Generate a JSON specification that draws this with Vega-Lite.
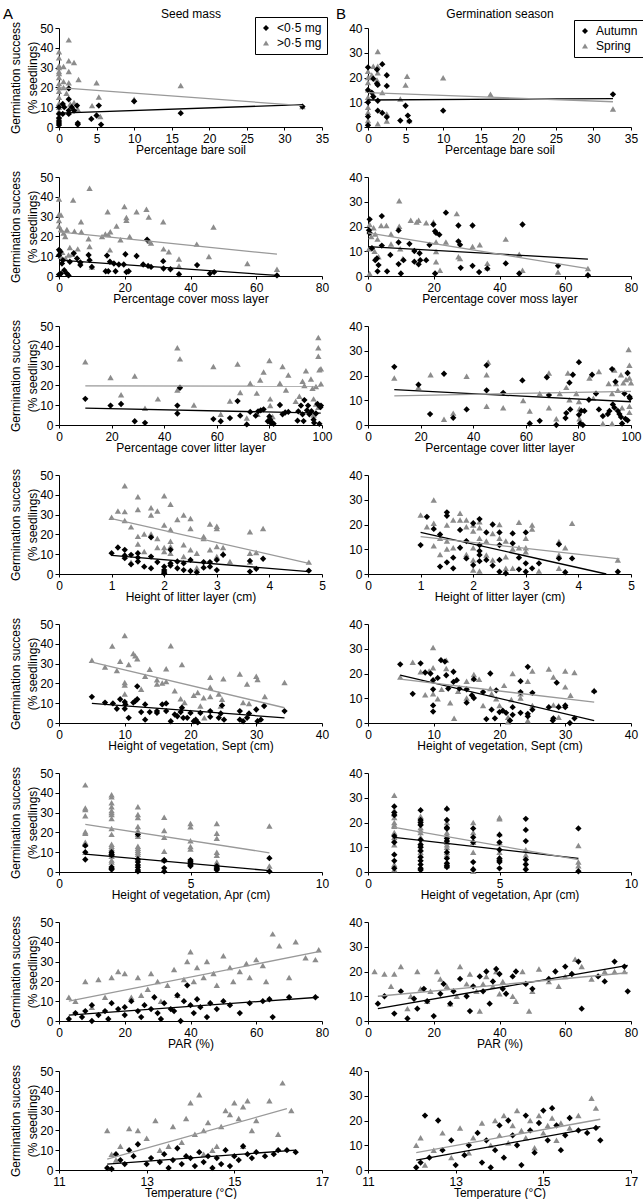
{
"$schema":"https://vega.github.io/schema/vega-lite/v6.json",
"padding":{"left":3,"top":7,"right":2,"bottom":2},
"background":"white",
"columns":2,
"spacing":{"row":50,"column":46},
"bounds":"flush",
"resolve":{"scale":{"color":"independent","shape":"independent","stroke":"independent"},"legend":{"color":"independent","shape":"independent"}},
"config":{
 "font":"Liberation Sans",
 "view":{"stroke":null},
 "axis":{"grid":false,"domainColor":"#000","tickColor":"#000","labelColor":"#000","titleColor":"#000","labelFontSize":12,"titleFontSize":12,"titleFontWeight":"normal","tickSize":4,"labelPadding":2,"titlePadding":2,"labelFlush":false,"labelOverlap":false,"labelFont":"Liberation Sans","titleFont":"Liberation Sans"},
 "axisX":{"tickSize":3,"labelPadding":3,"titlePadding":0,"labelOverlap":false},
 "axisY":{"titlePadding":0,"titleLineHeight":17,"labelOverlap":false},
 "legend":{"strokeColor":"#000","padding":5,"labelFontSize":12,"labelColor":"#000","symbolSize":36,"rowPadding":3,"labelOffset":5,"symbolStrokeWidth":0,"labelFont":"Liberation Sans"},
 "title":{"fontWeight":"normal","fontSize":15,"color":"#000","font":"Liberation Sans"},
 "point":{"size":40}
},
"datasets":{
"p1":[
{"g":">0·5 mg","x":0,"y":38},{"g":">0·5 mg","x":0,"y":35},{"g":">0·5 mg","x":0,"y":31},{"g":">0·5 mg","x":0,"y":30},{"g":">0·5 mg","x":0,"y":28},{"g":">0·5 mg","x":0,"y":27},{"g":">0·5 mg","x":0,"y":25},{"g":">0·5 mg","x":0,"y":22},{"g":">0·5 mg","x":0,"y":20},{"g":">0·5 mg","x":0,"y":18},{"g":">0·5 mg","x":0,"y":15},{"g":">0·5 mg","x":0,"y":12},{"g":">0·5 mg","x":0,"y":10},{"g":">0·5 mg","x":0,"y":8},{"g":">0·5 mg","x":0,"y":5},
{"g":">0·5 mg","x":1.3,"y":44},{"g":">0·5 mg","x":1.3,"y":33.5},{"g":">0·5 mg","x":2,"y":32.6},{"g":">0·5 mg","x":0.6,"y":30.6},{"g":">0·5 mg","x":1.3,"y":28},{"g":">0·5 mg","x":2.6,"y":24},{"g":">0·5 mg","x":1.3,"y":22.4},{"g":">0·5 mg","x":0.6,"y":23},{"g":">0·5 mg","x":5,"y":22.4},{"g":">0·5 mg","x":5.3,"y":15.2},{"g":">0·5 mg","x":5.5,"y":5.3},{"g":">0·5 mg","x":4.4,"y":10.8},{"g":">0·5 mg","x":10,"y":14},{"g":">0·5 mg","x":16.2,"y":21},{"g":">0·5 mg","x":32.4,"y":10.3},{"g":">0·5 mg","x":2,"y":12.4},{"g":">0·5 mg","x":2.5,"y":9},{"g":">0·5 mg","x":1.5,"y":11.6},{"g":">0·5 mg","x":0.6,"y":20},{"g":">0·5 mg","x":1,"y":17},
{"g":"<0·5 mg","x":0,"y":1},{"g":"<0·5 mg","x":0,"y":2},{"g":"<0·5 mg","x":0,"y":6.6},{"g":"<0·5 mg","x":0,"y":10},{"g":"<0·5 mg","x":0.5,"y":11.6},{"g":"<0·5 mg","x":0.5,"y":6.6},{"g":"<0·5 mg","x":0.7,"y":10},{"g":"<0·5 mg","x":1.3,"y":19.5},{"g":"<0·5 mg","x":1.3,"y":14},{"g":"<0·5 mg","x":1.3,"y":8.3},{"g":"<0·5 mg","x":1.3,"y":6.6},{"g":"<0·5 mg","x":1.7,"y":10},{"g":"<0·5 mg","x":2,"y":8.3},{"g":"<0·5 mg","x":2.4,"y":10.8},{"g":"<0·5 mg","x":2.5,"y":2},{"g":"<0·5 mg","x":2.5,"y":1.2},{"g":"<0·5 mg","x":4.3,"y":4.1},{"g":"<0·5 mg","x":5,"y":5.8},{"g":"<0·5 mg","x":5.3,"y":10.8},{"g":"<0·5 mg","x":5.6,"y":1.2},{"g":"<0·5 mg","x":10,"y":13},{"g":"<0·5 mg","x":16.2,"y":7},{"g":"<0·5 mg","x":32.4,"y":10.3},{"g":"<0·5 mg","x":0,"y":3},{"g":"<0·5 mg","x":0,"y":4.5}],
"l1":[{"g":"<0·5 mg","x":0,"y":7},{"g":"<0·5 mg","x":32.4,"y":11.3},{"g":">0·5 mg","x":0,"y":19.9},{"g":">0·5 mg","x":32.4,"y":10.8}],
"p2":[
{"g":"Spring","x":1.3,"y":30.5},{"g":"Spring","x":0.7,"y":24.5},{"g":"Spring","x":1.3,"y":24.5},{"g":"Spring","x":0,"y":22.5},{"g":"Spring","x":0,"y":20},{"g":"Spring","x":0,"y":18},{"g":"Spring","x":0,"y":15},{"g":"Spring","x":0,"y":12},{"g":"Spring","x":0,"y":8},{"g":"Spring","x":0,"y":6},{"g":"Spring","x":0,"y":2.6},{"g":"Spring","x":1.3,"y":21.9},{"g":"Spring","x":1.9,"y":13.9},{"g":"Spring","x":0.7,"y":13.2},{"g":"Spring","x":5.2,"y":20.5},{"g":"Spring","x":5,"y":17},{"g":"Spring","x":4.3,"y":11.3},{"g":"Spring","x":2.5,"y":5.3},{"g":"Spring","x":2.5,"y":2.4},{"g":"Spring","x":5.5,"y":2.6},{"g":"Spring","x":1.3,"y":1.3},{"g":"Spring","x":10,"y":19.9},{"g":"Spring","x":16.3,"y":13.2},{"g":"Spring","x":32.6,"y":7.3},{"g":"Spring","x":0.5,"y":21},{"g":"Spring","x":1.2,"y":19},
{"g":"Autumn","x":0,"y":24.1},{"g":"Autumn","x":0,"y":4.2},{"g":"Autumn","x":0,"y":0.7},{"g":"Autumn","x":0.5,"y":13.9},{"g":"Autumn","x":0.7,"y":12.2},{"g":"Autumn","x":0.7,"y":19.5},{"g":"Autumn","x":1.2,"y":23.2},{"g":"Autumn","x":1.2,"y":17.5},{"g":"Autumn","x":1.3,"y":17},{"g":"Autumn","x":1.3,"y":10.6},{"g":"Autumn","x":1.3,"y":6.6},{"g":"Autumn","x":1.9,"y":25.4},{"g":"Autumn","x":1.9,"y":5.7},{"g":"Autumn","x":2.5,"y":20.9},{"g":"Autumn","x":2.5,"y":16.6},{"g":"Autumn","x":2.5,"y":4},{"g":"Autumn","x":4.3,"y":2.6},{"g":"Autumn","x":5,"y":8.6},{"g":"Autumn","x":5.3,"y":4.6},{"g":"Autumn","x":5.5,"y":2.4},{"g":"Autumn","x":10,"y":6.6},{"g":"Autumn","x":32.6,"y":13.2},{"g":"Autumn","x":0,"y":10},{"g":"Autumn","x":0,"y":15}],
"l2":[{"g":"Autumn","x":0,"y":10.9},{"g":"Autumn","x":32.6,"y":11.5},{"g":"Spring","x":0,"y":13.9},{"g":"Spring","x":32.6,"y":10.2}],
"p3":[
{"g":">0·5 mg","x":0,"y":25.2},{"g":">0·5 mg","x":0,"y":28},{"g":">0·5 mg","x":0,"y":31.2},{"g":">0·5 mg","x":0,"y":38.9},{"g":">0·5 mg","x":0.6,"y":30.8},{"g":">0·5 mg","x":0.6,"y":23.5},{"g":">0·5 mg","x":1.4,"y":21.7},{"g":">0·5 mg","x":1.9,"y":20},{"g":">0·5 mg","x":2.4,"y":23.5},{"g":">0·5 mg","x":3.3,"y":14.4},{"g":">0·5 mg","x":2.9,"y":10.6},{"g":">0·5 mg","x":4.3,"y":38.4},{"g":">0·5 mg","x":4.7,"y":22.6},{"g":">0·5 mg","x":5.7,"y":13.7},{"g":">0·5 mg","x":6.7,"y":27.4},{"g":">0·5 mg","x":6.8,"y":22.3},{"g":">0·5 mg","x":9,"y":18.8},{"g":">0·5 mg","x":9.3,"y":14.9},{"g":">0·5 mg","x":9.3,"y":44.3},{"g":">0·5 mg","x":10,"y":4.6},{"g":">0·5 mg","x":13.1,"y":20},{"g":">0·5 mg","x":14.1,"y":21.2},{"g":">0·5 mg","x":14.8,"y":32.4},{"g":">0·5 mg","x":15,"y":20.9},{"g":">0·5 mg","x":15.6,"y":22.3},{"g":">0·5 mg","x":15.5,"y":13.2},{"g":">0·5 mg","x":17.5,"y":25.2},{"g":">0·5 mg","x":18.7,"y":18.3},{"g":">0·5 mg","x":19.9,"y":35.1},{"g":">0·5 mg","x":20.5,"y":29.5},{"g":">0·5 mg","x":20.5,"y":28.1},{"g":">0·5 mg","x":21.5,"y":20},{"g":">0·5 mg","x":23.6,"y":32.5},{"g":">0·5 mg","x":26.6,"y":33.7},{"g":">0·5 mg","x":27.3,"y":29.8},{"g":">0·5 mg","x":27.6,"y":17.5},{"g":">0·5 mg","x":28,"y":16.6},{"g":">0·5 mg","x":31.7,"y":27.4},{"g":">0·5 mg","x":31.8,"y":13.7},{"g":">0·5 mg","x":33.4,"y":12.3},{"g":">0·5 mg","x":36.5,"y":8.6},{"g":">0·5 mg","x":36.5,"y":5.1},{"g":">0·5 mg","x":41.9,"y":16.1},{"g":">0·5 mg","x":45.6,"y":9.8},{"g":">0·5 mg","x":47,"y":24.7},{"g":">0·5 mg","x":57.3,"y":6.3},{"g":">0·5 mg","x":66.3,"y":3.4},{"g":">0·5 mg","x":0.5,"y":10},{"g":">0·5 mg","x":1,"y":12},{"g":">0·5 mg","x":2,"y":9},{"g":">0·5 mg","x":4,"y":11},
{"g":"<0·5 mg","x":0,"y":13.2},{"g":"<0·5 mg","x":0.4,"y":12.3},{"g":"<0·5 mg","x":0,"y":10.5},{"g":"<0·5 mg","x":0,"y":0.7},{"g":"<0·5 mg","x":0.6,"y":1.2},{"g":"<0·5 mg","x":0.9,"y":6.3},{"g":"<0·5 mg","x":1.2,"y":8},{"g":"<0·5 mg","x":1.6,"y":2.9},{"g":"<0·5 mg","x":2.4,"y":1.2},{"g":"<0·5 mg","x":2.9,"y":0.3},{"g":"<0·5 mg","x":3.3,"y":7.2},{"g":"<0·5 mg","x":4.5,"y":11.5},{"g":"<0·5 mg","x":5.5,"y":8.9},{"g":"<0·5 mg","x":6.5,"y":5.5},{"g":"<0·5 mg","x":6.5,"y":6.8},{"g":"<0·5 mg","x":9,"y":10.6},{"g":"<0·5 mg","x":9.3,"y":8},{"g":"<0·5 mg","x":10,"y":4.6},{"g":"<0·5 mg","x":14.2,"y":2.4},{"g":"<0·5 mg","x":14.6,"y":10.3},{"g":"<0·5 mg","x":15,"y":2.4},{"g":"<0·5 mg","x":15.5,"y":7.2},{"g":"<0·5 mg","x":16.7,"y":6.3},{"g":"<0·5 mg","x":17.2,"y":2.4},{"g":"<0·5 mg","x":18.2,"y":5.8},{"g":"<0·5 mg","x":19.7,"y":5.8},{"g":"<0·5 mg","x":20.2,"y":11},{"g":"<0·5 mg","x":20.5,"y":2},{"g":"<0·5 mg","x":21.2,"y":2.4},{"g":"<0·5 mg","x":23.6,"y":10.1},{"g":"<0·5 mg","x":25.6,"y":5.8},{"g":"<0·5 mg","x":26.8,"y":18.3},{"g":"<0·5 mg","x":27.1,"y":5.1},{"g":"<0·5 mg","x":28,"y":4.6},{"g":"<0·5 mg","x":31.7,"y":7.5},{"g":"<0·5 mg","x":31.8,"y":3.8},{"g":"<0·5 mg","x":33.9,"y":3.4},{"g":"<0·5 mg","x":36.5,"y":0.9},{"g":"<0·5 mg","x":42,"y":5.5},{"g":"<0·5 mg","x":45.9,"y":1.2},{"g":"<0·5 mg","x":47.2,"y":2},{"g":"<0·5 mg","x":66.3,"y":0.3}],
"l3":[{"g":"<0·5 mg","x":0,"y":8},{"g":"<0·5 mg","x":66.3,"y":0.3},{"g":">0·5 mg","x":0,"y":22.3},{"g":">0·5 mg","x":66.3,"y":11}],
"p4":[
{"g":"Spring","x":0.5,"y":20.8},{"g":"Spring","x":0.5,"y":18},{"g":"Spring","x":0.3,"y":11},{"g":"Spring","x":0.5,"y":1},{"g":"Spring","x":1.7,"y":19.5},{"g":"Spring","x":2.2,"y":17},{"g":"Spring","x":2.9,"y":14.9},{"g":"Spring","x":4,"y":20.4},{"g":"Spring","x":5.6,"y":20.4},{"g":"Spring","x":7,"y":17},{"g":"Spring","x":7,"y":12.9},{"g":"Spring","x":3.2,"y":7.8},{"g":"Spring","x":9.5,"y":30.4},{"g":"Spring","x":9.5,"y":20.1},{"g":"Spring","x":9.8,"y":11},{"g":"Spring","x":10.6,"y":7.1},{"g":"Spring","x":13,"y":22.5},{"g":"Spring","x":14.8,"y":21.8},{"g":"Spring","x":15.4,"y":22.5},{"g":"Spring","x":17.7,"y":21.5},{"g":"Spring","x":19.9,"y":21.8},{"g":"Spring","x":20.7,"y":13.7},{"g":"Spring","x":20.7,"y":9.9},{"g":"Spring","x":20.7,"y":5.8},{"g":"Spring","x":21.9,"y":2.3},{"g":"Spring","x":23.7,"y":13.7},{"g":"Spring","x":27,"y":25.2},{"g":"Spring","x":27.5,"y":7.8},{"g":"Spring","x":28,"y":7.1},{"g":"Spring","x":31.8,"y":11.9},{"g":"Spring","x":34,"y":12.6},{"g":"Spring","x":36.3,"y":5.1},{"g":"Spring","x":36.3,"y":3.3},{"g":"Spring","x":41.9,"y":14.9},{"g":"Spring","x":46,"y":8.8},{"g":"Spring","x":47,"y":2.3},{"g":"Spring","x":57.8,"y":1.6},{"g":"Spring","x":66.9,"y":3},{"g":"Spring","x":1,"y":16},{"g":"Spring","x":2,"y":10},
{"g":"Autumn","x":0.5,"y":22.9},{"g":"Autumn","x":0.5,"y":17.4},{"g":"Autumn","x":0.3,"y":18.5},{"g":"Autumn","x":1.2,"y":11.2},{"g":"Autumn","x":2.2,"y":6.4},{"g":"Autumn","x":2.7,"y":7.1},{"g":"Autumn","x":2.9,"y":1.9},{"g":"Autumn","x":3.2,"y":4.4},{"g":"Autumn","x":4.2,"y":24.2},{"g":"Autumn","x":4.2,"y":12.3},{"g":"Autumn","x":5.8,"y":1.9},{"g":"Autumn","x":6.8,"y":8.5},{"g":"Autumn","x":9.3,"y":18.4},{"g":"Autumn","x":9.3,"y":13.6},{"g":"Autumn","x":9.3,"y":4.8},{"g":"Autumn","x":10,"y":1},{"g":"Autumn","x":10.8,"y":6.4},{"g":"Autumn","x":12.6,"y":13},{"g":"Autumn","x":14.1,"y":10.1},{"g":"Autumn","x":14.1,"y":5.8},{"g":"Autumn","x":15.4,"y":4.7},{"g":"Autumn","x":15.7,"y":9.2},{"g":"Autumn","x":15.9,"y":6.4},{"g":"Autumn","x":17.7,"y":6.4},{"g":"Autumn","x":18.7,"y":12.6},{"g":"Autumn","x":19.9,"y":20.8},{"g":"Autumn","x":20.4,"y":18.1},{"g":"Autumn","x":20.7,"y":17.4},{"g":"Autumn","x":21.7,"y":16.7},{"g":"Autumn","x":20.4,"y":1},{"g":"Autumn","x":23.7,"y":25.6},{"g":"Autumn","x":27.5,"y":20.4},{"g":"Autumn","x":27.5,"y":14},{"g":"Autumn","x":28,"y":12.6},{"g":"Autumn","x":28.2,"y":3.3},{"g":"Autumn","x":31.8,"y":20.4},{"g":"Autumn","x":31.8,"y":4.1},{"g":"Autumn","x":33.8,"y":1.6},{"g":"Autumn","x":36.3,"y":3},{"g":"Autumn","x":41.9,"y":5.1},{"g":"Autumn","x":46,"y":1},{"g":"Autumn","x":47,"y":20.8},{"g":"Autumn","x":57.8,"y":4.1},{"g":"Autumn","x":66.9,"y":0.3}],
"l4":[{"g":"Autumn","x":0,"y":11.9},{"g":"Autumn","x":66.9,"y":6.8},{"g":"Spring","x":0,"y":17.4},{"g":"Spring","x":66.9,"y":3}],
"p5":[
{"g":">0·5 mg","x":10,"y":31.9},{"g":">0·5 mg","x":19.6,"y":24},{"g":">0·5 mg","x":23.6,"y":15.3},{"g":">0·5 mg","x":28.8,"y":24.8},{"g":">0·5 mg","x":37.6,"y":13.2},{"g":">0·5 mg","x":32.7,"y":8.5},{"g":">0·5 mg","x":45,"y":39},{"g":">0·5 mg","x":46,"y":33.4},{"g":">0·5 mg","x":45,"y":17.7},{"g":">0·5 mg","x":51.3,"y":10.1},{"g":">0·5 mg","x":58.7,"y":29.5},{"g":">0·5 mg","x":61.5,"y":5.4},{"g":">0·5 mg","x":65,"y":12.1},{"g":">0·5 mg","x":67.9,"y":30.8},{"g":">0·5 mg","x":68.9,"y":16.4},{"g":">0·5 mg","x":71.4,"y":3.5},{"g":">0·5 mg","x":72.7,"y":21.1},{"g":">0·5 mg","x":75.2,"y":16.1},{"g":">0·5 mg","x":75.5,"y":5.4},{"g":">0·5 mg","x":76.5,"y":22.7},{"g":">0·5 mg","x":77.8,"y":26.8},{"g":">0·5 mg","x":80,"y":32.6},{"g":">0·5 mg","x":80.3,"y":13.2},{"g":">0·5 mg","x":80.3,"y":9.8},{"g":">0·5 mg","x":81.2,"y":4.3},{"g":">0·5 mg","x":84,"y":21.1},{"g":">0·5 mg","x":85,"y":29.5},{"g":">0·5 mg","x":86.3,"y":17.7},{"g":">0·5 mg","x":87.2,"y":25.2},{"g":">0·5 mg","x":91.4,"y":14.5},{"g":">0·5 mg","x":92.6,"y":22.1},{"g":">0·5 mg","x":93.3,"y":20},{"g":">0·5 mg","x":93.9,"y":27.4},{"g":">0·5 mg","x":95.8,"y":23.2},{"g":">0·5 mg","x":96.4,"y":18.5},{"g":">0·5 mg","x":96.8,"y":13.2},{"g":">0·5 mg","x":96.8,"y":5},{"g":">0·5 mg","x":97.7,"y":19.4},{"g":">0·5 mg","x":98.6,"y":44.2},{"g":">0·5 mg","x":98.6,"y":39},{"g":">0·5 mg","x":98.6,"y":34.7},{"g":">0·5 mg","x":99,"y":27.9},{"g":">0·5 mg","x":99.6,"y":28.4},{"g":">0·5 mg","x":99.6,"y":20.8},{"g":">0·5 mg","x":97.7,"y":10.6},{"g":">0·5 mg","x":98.6,"y":9},{"g":">0·5 mg","x":90,"y":12},
{"g":"<0·5 mg","x":10,"y":13.2},{"g":"<0·5 mg","x":19.6,"y":9.8},{"g":"<0·5 mg","x":23.6,"y":10.6},{"g":"<0·5 mg","x":28.8,"y":1.9},{"g":"<0·5 mg","x":32.7,"y":1.1},{"g":"<0·5 mg","x":45,"y":9.8},{"g":"<0·5 mg","x":45,"y":5.8},{"g":"<0·5 mg","x":46,"y":18.8},{"g":"<0·5 mg","x":58.7,"y":3},{"g":"<0·5 mg","x":61.5,"y":1.9},{"g":"<0·5 mg","x":65,"y":3.5},{"g":"<0·5 mg","x":67.9,"y":12.1},{"g":"<0·5 mg","x":68.9,"y":4.7},{"g":"<0·5 mg","x":71.4,"y":0.3},{"g":"<0·5 mg","x":72.7,"y":6.6},{"g":"<0·5 mg","x":74.8,"y":4.7},{"g":"<0·5 mg","x":75.7,"y":6.9},{"g":"<0·5 mg","x":76.7,"y":7.4},{"g":"<0·5 mg","x":77.8,"y":7.9},{"g":"<0·5 mg","x":79.4,"y":1.9},{"g":"<0·5 mg","x":80,"y":4.3},{"g":"<0·5 mg","x":80.3,"y":2.7},{"g":"<0·5 mg","x":80.5,"y":1.1},{"g":"<0·5 mg","x":81.2,"y":1.1},{"g":"<0·5 mg","x":81.6,"y":0.6},{"g":"<0·5 mg","x":84,"y":10.1},{"g":"<0·5 mg","x":85,"y":5.4},{"g":"<0·5 mg","x":86,"y":6.3},{"g":"<0·5 mg","x":87.2,"y":6.6},{"g":"<0·5 mg","x":90.7,"y":2.2},{"g":"<0·5 mg","x":91,"y":6.9},{"g":"<0·5 mg","x":92,"y":9.8},{"g":"<0·5 mg","x":92.6,"y":5.4},{"g":"<0·5 mg","x":93.3,"y":12.6},{"g":"<0·5 mg","x":94.3,"y":7.4},{"g":"<0·5 mg","x":94.7,"y":9.8},{"g":"<0·5 mg","x":95.2,"y":5.4},{"g":"<0·5 mg","x":96.8,"y":2.7},{"g":"<0·5 mg","x":97,"y":1.1},{"g":"<0·5 mg","x":97.7,"y":5.8},{"g":"<0·5 mg","x":98.3,"y":10.6},{"g":"<0·5 mg","x":99,"y":0.6},{"g":"<0·5 mg","x":99.4,"y":9},{"g":"<0·5 mg","x":99.6,"y":9.8},{"g":"<0·5 mg","x":96,"y":7},{"g":"<0·5 mg","x":93,"y":2}],
"l5":[{"g":"<0·5 mg","x":10,"y":8.5},{"g":"<0·5 mg","x":99.5,"y":6},{"g":">0·5 mg","x":10,"y":19.8},{"g":">0·5 mg","x":99.5,"y":19.6}],
"p6":[
{"g":"Spring","x":10,"y":19},{"g":"Spring","x":19.2,"y":15.2},{"g":"Spring","x":23.8,"y":20.3},{"g":"Spring","x":28.9,"y":2.3},{"g":"Spring","x":32.4,"y":4.8},{"g":"Spring","x":37.5,"y":19.7},{"g":"Spring","x":45.1,"y":20.3},{"g":"Spring","x":45.7,"y":25.4},{"g":"Spring","x":45.1,"y":7.6},{"g":"Spring","x":51.4,"y":7},{"g":"Spring","x":59,"y":9.9},{"g":"Spring","x":61.5,"y":5.7},{"g":"Spring","x":65.3,"y":12.7},{"g":"Spring","x":68.8,"y":21},{"g":"Spring","x":68.8,"y":7},{"g":"Spring","x":71.6,"y":2.5},{"g":"Spring","x":72.9,"y":12.7},{"g":"Spring","x":75.4,"y":15.2},{"g":"Spring","x":76,"y":21},{"g":"Spring","x":76.6,"y":10.2},{"g":"Spring","x":79.2,"y":12.7},{"g":"Spring","x":80.2,"y":9.5},{"g":"Spring","x":80.4,"y":6.6},{"g":"Spring","x":80.4,"y":2.5},{"g":"Spring","x":84.2,"y":19},{"g":"Spring","x":85.7,"y":10.8},{"g":"Spring","x":87.8,"y":21.6},{"g":"Spring","x":89.3,"y":0.6},{"g":"Spring","x":91.5,"y":16.8},{"g":"Spring","x":92.8,"y":0.6},{"g":"Spring","x":92.8,"y":12.7},{"g":"Spring","x":93.7,"y":22.2},{"g":"Spring","x":94.3,"y":16.8},{"g":"Spring","x":95,"y":14},{"g":"Spring","x":96.2,"y":20.3},{"g":"Spring","x":96.6,"y":7},{"g":"Spring","x":97.1,"y":17.1},{"g":"Spring","x":98.1,"y":18.4},{"g":"Spring","x":99.1,"y":30.5},{"g":"Spring","x":99.4,"y":24.1},{"g":"Spring","x":99.4,"y":19},{"g":"Spring","x":99.4,"y":7.6},{"g":"Spring","x":100,"y":17.1},{"g":"Spring","x":99.4,"y":5.1},
{"g":"Autumn","x":10,"y":23.5},{"g":"Autumn","x":19.2,"y":16.3},{"g":"Autumn","x":23.6,"y":4.4},{"g":"Autumn","x":28.9,"y":20.7},{"g":"Autumn","x":32.4,"y":2.9},{"g":"Autumn","x":37.5,"y":6.3},{"g":"Autumn","x":45.1,"y":24.1},{"g":"Autumn","x":45.1,"y":14},{"g":"Autumn","x":51.4,"y":13},{"g":"Autumn","x":58.7,"y":18},{"g":"Autumn","x":61.5,"y":0.6},{"g":"Autumn","x":65.3,"y":1.7},{"g":"Autumn","x":68.8,"y":12.1},{"g":"Autumn","x":68,"y":19.3},{"g":"Autumn","x":71.6,"y":0},{"g":"Autumn","x":75.1,"y":2.8},{"g":"Autumn","x":75.4,"y":4.8},{"g":"Autumn","x":76.6,"y":17.1},{"g":"Autumn","x":76.9,"y":6.3},{"g":"Autumn","x":77.9,"y":20.3},{"g":"Autumn","x":80.2,"y":25.4},{"g":"Autumn","x":80.2,"y":4.1},{"g":"Autumn","x":80.7,"y":0.6},{"g":"Autumn","x":81.1,"y":5.7},{"g":"Autumn","x":81.7,"y":0},{"g":"Autumn","x":82.3,"y":5.7},{"g":"Autumn","x":84,"y":10.2},{"g":"Autumn","x":85.2,"y":20.3},{"g":"Autumn","x":86.7,"y":12.7},{"g":"Autumn","x":87.8,"y":6.3},{"g":"Autumn","x":89.3,"y":3.6},{"g":"Autumn","x":91.2,"y":4.4},{"g":"Autumn","x":91.8,"y":5.7},{"g":"Autumn","x":92.8,"y":22.6},{"g":"Autumn","x":93.1,"y":8.3},{"g":"Autumn","x":93.7,"y":7},{"g":"Autumn","x":94.1,"y":17.5},{"g":"Autumn","x":95,"y":5.7},{"g":"Autumn","x":95.6,"y":4.4},{"g":"Autumn","x":96.2,"y":3.2},{"g":"Autumn","x":96.6,"y":0.6},{"g":"Autumn","x":97.5,"y":12.7},{"g":"Autumn","x":97.9,"y":2.5},{"g":"Autumn","x":98.7,"y":1.9},{"g":"Autumn","x":98.7,"y":21},{"g":"Autumn","x":99.4,"y":11.4},{"g":"Autumn","x":99.6,"y":10.8}],
"l6":[{"g":"Autumn","x":10,"y":14.3},{"g":"Autumn","x":100,"y":9.4},{"g":"Spring","x":10,"y":11.8},{"g":"Spring","x":100,"y":13.6}],
"p7":[
{"g":">0·5 mg","x":1,"y":28.7},{"g":">0·5 mg","x":1.12,"y":31.8},{"g":">0·5 mg","x":1.25,"y":44.6},{"g":">0·5 mg","x":1.25,"y":31.5},{"g":">0·5 mg","x":1.25,"y":27},{"g":">0·5 mg","x":1.37,"y":23.8},{"g":">0·5 mg","x":1.37,"y":6},{"g":">0·5 mg","x":1.5,"y":39},{"g":">0·5 mg","x":1.5,"y":32.6},{"g":">0·5 mg","x":1.5,"y":19},{"g":">0·5 mg","x":1.5,"y":15.1},{"g":">0·5 mg","x":1.62,"y":20.2},{"g":">0·5 mg","x":1.62,"y":11.4},{"g":">0·5 mg","x":1.75,"y":33.5},{"g":">0·5 mg","x":1.75,"y":29.8},{"g":">0·5 mg","x":1.75,"y":20.2},{"g":">0·5 mg","x":1.87,"y":31.8},{"g":">0·5 mg","x":1.87,"y":17.9},{"g":">0·5 mg","x":1.87,"y":13.4},{"g":">0·5 mg","x":2,"y":39.5},{"g":">0·5 mg","x":2,"y":24.7},{"g":">0·5 mg","x":2,"y":13.4},{"g":">0·5 mg","x":2,"y":11.4},{"g":">0·5 mg","x":2.12,"y":35.2},{"g":">0·5 mg","x":2.12,"y":22.5},{"g":">0·5 mg","x":2.12,"y":16.5},{"g":">0·5 mg","x":2.12,"y":13.9},{"g":">0·5 mg","x":2.12,"y":10.5},{"g":">0·5 mg","x":2.25,"y":27.5},{"g":">0·5 mg","x":2.37,"y":29.8},{"g":">0·5 mg","x":2.37,"y":14.8},{"g":">0·5 mg","x":2.37,"y":8.8},{"g":">0·5 mg","x":2.5,"y":28},{"g":">0·5 mg","x":2.5,"y":23},{"g":">0·5 mg","x":2.5,"y":12.2},{"g":">0·5 mg","x":2.62,"y":10.5},{"g":">0·5 mg","x":2.62,"y":3.2},{"g":">0·5 mg","x":2.75,"y":19},{"g":">0·5 mg","x":2.75,"y":17.9},{"g":">0·5 mg","x":2.87,"y":25.3},{"g":">0·5 mg","x":2.87,"y":12.2},{"g":">0·5 mg","x":3,"y":24.1},{"g":">0·5 mg","x":3,"y":23},{"g":">0·5 mg","x":3,"y":13.9},{"g":">0·5 mg","x":3,"y":8.8},{"g":">0·5 mg","x":3.12,"y":13.4},{"g":">0·5 mg","x":3.12,"y":10.5},{"g":">0·5 mg","x":3.25,"y":6.3},{"g":">0·5 mg","x":3.63,"y":21.3},{"g":">0·5 mg","x":3.63,"y":10.5},{"g":">0·5 mg","x":3.63,"y":6},{"g":">0·5 mg","x":3.75,"y":10.9},{"g":">0·5 mg","x":3.88,"y":23},{"g":">0·5 mg","x":4.75,"y":6},
{"g":"<0·5 mg","x":1,"y":10.5},{"g":"<0·5 mg","x":1.12,"y":13.4},{"g":"<0·5 mg","x":1.25,"y":12.2},{"g":"<0·5 mg","x":1.25,"y":8},{"g":"<0·5 mg","x":1.25,"y":9.4},{"g":"<0·5 mg","x":1.37,"y":4.9},{"g":"<0·5 mg","x":1.37,"y":9.7},{"g":"<0·5 mg","x":1.5,"y":10.5},{"g":"<0·5 mg","x":1.5,"y":8.3},{"g":"<0·5 mg","x":1.5,"y":6.3},{"g":"<0·5 mg","x":1.62,"y":3.7},{"g":"<0·5 mg","x":1.75,"y":8.8},{"g":"<0·5 mg","x":1.75,"y":2.9},{"g":"<0·5 mg","x":1.75,"y":18.5},{"g":"<0·5 mg","x":1.87,"y":6},{"g":"<0·5 mg","x":2,"y":2},{"g":"<0·5 mg","x":2,"y":0.3},{"g":"<0·5 mg","x":2,"y":3.7},{"g":"<0·5 mg","x":2,"y":1},{"g":"<0·5 mg","x":2.12,"y":12.2},{"g":"<0·5 mg","x":2.12,"y":5.4},{"g":"<0·5 mg","x":2.12,"y":4.3},{"g":"<0·5 mg","x":2.25,"y":6.3},{"g":"<0·5 mg","x":2.25,"y":2.9},{"g":"<0·5 mg","x":2.37,"y":2},{"g":"<0·5 mg","x":2.37,"y":5.4},{"g":"<0·5 mg","x":2.5,"y":7.1},{"g":"<0·5 mg","x":2.5,"y":1.5},{"g":"<0·5 mg","x":2.62,"y":0.9},{"g":"<0·5 mg","x":2.75,"y":6},{"g":"<0·5 mg","x":2.75,"y":3.2},{"g":"<0·5 mg","x":2.87,"y":3.7},{"g":"<0·5 mg","x":2.87,"y":6},{"g":"<0·5 mg","x":3,"y":7.1},{"g":"<0·5 mg","x":3,"y":2},{"g":"<0·5 mg","x":3.12,"y":9.7},{"g":"<0·5 mg","x":3.63,"y":6.6},{"g":"<0·5 mg","x":3.63,"y":1.2},{"g":"<0·5 mg","x":3.75,"y":2.6},{"g":"<0·5 mg","x":3.88,"y":7.7},{"g":"<0·5 mg","x":4.75,"y":1.7}],
"l7":[{"g":"<0·5 mg","x":1,"y":9.4},{"g":"<0·5 mg","x":4.75,"y":1.2},{"g":">0·5 mg","x":1,"y":28},{"g":">0·5 mg","x":4.75,"y":5.4}],
"p8":[
{"g":"Spring","x":1,"y":23.8},{"g":"Spring","x":1.12,"y":19.1},{"g":"Spring","x":1.25,"y":29.9},{"g":"Spring","x":1.25,"y":20.5},{"g":"Spring","x":1.25,"y":11.4},{"g":"Spring","x":1.37,"y":7.9},{"g":"Spring","x":1.37,"y":14.4},{"g":"Spring","x":1.5,"y":19.8},{"g":"Spring","x":1.5,"y":13.3},{"g":"Spring","x":1.5,"y":10.1},{"g":"Spring","x":1.62,"y":21.8},{"g":"Spring","x":1.62,"y":10.6},{"g":"Spring","x":1.75,"y":24.5},{"g":"Spring","x":1.75,"y":21.8},{"g":"Spring","x":1.87,"y":21.8},{"g":"Spring","x":1.87,"y":19.1},{"g":"Spring","x":1.87,"y":7.9},{"g":"Spring","x":2,"y":19.8},{"g":"Spring","x":2,"y":17.4},{"g":"Spring","x":2,"y":10.6},{"g":"Spring","x":2,"y":5.7},{"g":"Spring","x":2,"y":1.6},{"g":"Spring","x":2.12,"y":21.1},{"g":"Spring","x":2.12,"y":18.7},{"g":"Spring","x":2.12,"y":14.4},{"g":"Spring","x":2.12,"y":1.2},{"g":"Spring","x":2.25,"y":13.3},{"g":"Spring","x":2.25,"y":7.7},{"g":"Spring","x":2.37,"y":16.4},{"g":"Spring","x":2.37,"y":5.7},{"g":"Spring","x":2.5,"y":20},{"g":"Spring","x":2.5,"y":14.4},{"g":"Spring","x":2.62,"y":13.3},{"g":"Spring","x":2.62,"y":7},{"g":"Spring","x":2.62,"y":2.3},{"g":"Spring","x":2.75,"y":2.3},{"g":"Spring","x":2.75,"y":10.1},{"g":"Spring","x":2.87,"y":20.9},{"g":"Spring","x":2.87,"y":10.6},{"g":"Spring","x":3,"y":14.4},{"g":"Spring","x":3,"y":10.6},{"g":"Spring","x":3,"y":9},{"g":"Spring","x":3.12,"y":19.8},{"g":"Spring","x":3.12,"y":18.2},{"g":"Spring","x":3.25,"y":1.2},{"g":"Spring","x":3.63,"y":13.1},{"g":"Spring","x":3.63,"y":7.7},{"g":"Spring","x":3.63,"y":2.3},{"g":"Spring","x":3.75,"y":10.6},{"g":"Spring","x":3.88,"y":20.5},{"g":"Spring","x":4.75,"y":5.7},
{"g":"Autumn","x":1,"y":11.7},{"g":"Autumn","x":1.12,"y":23.1},{"g":"Autumn","x":1.25,"y":18.2},{"g":"Autumn","x":1.37,"y":3},{"g":"Autumn","x":1.37,"y":16},{"g":"Autumn","x":1.5,"y":24.9},{"g":"Autumn","x":1.5,"y":23.5},{"g":"Autumn","x":1.5,"y":4.7},{"g":"Autumn","x":1.62,"y":2.3},{"g":"Autumn","x":1.62,"y":6.6},{"g":"Autumn","x":1.75,"y":17.8},{"g":"Autumn","x":1.75,"y":10.6},{"g":"Autumn","x":1.87,"y":6.3},{"g":"Autumn","x":1.87,"y":13.3},{"g":"Autumn","x":2,"y":20.5},{"g":"Autumn","x":2,"y":3.6},{"g":"Autumn","x":2.12,"y":22.2},{"g":"Autumn","x":2.12,"y":11.7},{"g":"Autumn","x":2.12,"y":9.3},{"g":"Autumn","x":2.12,"y":7.7},{"g":"Autumn","x":2.12,"y":5.2},{"g":"Autumn","x":2.25,"y":16.8},{"g":"Autumn","x":2.25,"y":5.7},{"g":"Autumn","x":2.37,"y":20},{"g":"Autumn","x":2.37,"y":3.4},{"g":"Autumn","x":2.5,"y":16.8},{"g":"Autumn","x":2.5,"y":11.7},{"g":"Autumn","x":2.5,"y":5.7},{"g":"Autumn","x":2.5,"y":0.9},{"g":"Autumn","x":2.62,"y":0.3},{"g":"Autumn","x":2.75,"y":16.4},{"g":"Autumn","x":2.75,"y":12.4},{"g":"Autumn","x":2.87,"y":6.6},{"g":"Autumn","x":2.87,"y":1.9},{"g":"Autumn","x":3,"y":16.8},{"g":"Autumn","x":3,"y":4.3},{"g":"Autumn","x":3,"y":0.9},{"g":"Autumn","x":3.12,"y":2.3},{"g":"Autumn","x":3.25,"y":4.3},{"g":"Autumn","x":3.63,"y":12},{"g":"Autumn","x":3.63,"y":6.3},{"g":"Autumn","x":3.75,"y":0.7},{"g":"Autumn","x":3.88,"y":6.3},{"g":"Autumn","x":4.75,"y":0.9}],
"l8":[{"g":"Autumn","x":1,"y":16.8},{"g":"Autumn","x":4.53,"y":0},{"g":"Spring","x":1,"y":15.1},{"g":"Spring","x":4.78,"y":6.1}],
"p9":[
{"g":">0·5 mg","x":5,"y":31.7},{"g":">0·5 mg","x":7,"y":28.3},{"g":">0·5 mg","x":8.1,"y":38.9},{"g":">0·5 mg","x":8.8,"y":26.5},{"g":">0·5 mg","x":9.3,"y":31.2},{"g":">0·5 mg","x":10,"y":44.2},{"g":">0·5 mg","x":10,"y":20.5},{"g":">0·5 mg","x":10,"y":19.2},{"g":">0·5 mg","x":10,"y":14.6},{"g":">0·5 mg","x":10.6,"y":29.5},{"g":">0·5 mg","x":11.3,"y":35.1},{"g":">0·5 mg","x":11.6,"y":33.9},{"g":">0·5 mg","x":11.9,"y":32.5},{"g":">0·5 mg","x":12.5,"y":17.1},{"g":">0·5 mg","x":13.1,"y":23.6},{"g":">0·5 mg","x":13.8,"y":27.1},{"g":">0·5 mg","x":14.9,"y":21.9},{"g":">0·5 mg","x":14.9,"y":19.7},{"g":">0·5 mg","x":15.7,"y":20.2},{"g":">0·5 mg","x":16.3,"y":27.4},{"g":">0·5 mg","x":16.3,"y":21},{"g":">0·5 mg","x":17,"y":39},{"g":">0·5 mg","x":17.6,"y":16.3},{"g":">0·5 mg","x":18.5,"y":12.3},{"g":">0·5 mg","x":18.7,"y":29.5},{"g":">0·5 mg","x":19.1,"y":10.3},{"g":">0·5 mg","x":20.5,"y":14},{"g":">0·5 mg","x":21.1,"y":15.4},{"g":">0·5 mg","x":21.5,"y":8.6},{"g":">0·5 mg","x":22,"y":12.8},{"g":">0·5 mg","x":22.1,"y":2.6},{"g":">0·5 mg","x":23,"y":23.1},{"g":">0·5 mg","x":23,"y":18},{"g":">0·5 mg","x":23,"y":13.4},{"g":">0·5 mg","x":24.3,"y":14.6},{"g":">0·5 mg","x":24.6,"y":8.6},{"g":">0·5 mg","x":24.8,"y":12},{"g":">0·5 mg","x":25,"y":22.3},{"g":">0·5 mg","x":27.5,"y":24.8},{"g":">0·5 mg","x":28,"y":10.3},{"g":">0·5 mg","x":28.6,"y":19.7},{"g":">0·5 mg","x":28.9,"y":9.9},{"g":">0·5 mg","x":30,"y":23.6},{"g":">0·5 mg","x":30.2,"y":22},{"g":">0·5 mg","x":31.3,"y":13.4},{"g":">0·5 mg","x":34.3,"y":20.5},
{"g":"<0·5 mg","x":5,"y":13.2},{"g":"<0·5 mg","x":7,"y":10.3},{"g":"<0·5 mg","x":8.2,"y":9.9},{"g":"<0·5 mg","x":8.8,"y":7.2},{"g":"<0·5 mg","x":9.3,"y":12},{"g":"<0·5 mg","x":10,"y":10.6},{"g":"<0·5 mg","x":10.1,"y":9.4},{"g":"<0·5 mg","x":10,"y":7.2},{"g":"<0·5 mg","x":10.6,"y":2.6},{"g":"<0·5 mg","x":11.3,"y":10.3},{"g":"<0·5 mg","x":11.6,"y":11.1},{"g":"<0·5 mg","x":11.9,"y":12},{"g":"<0·5 mg","x":11.9,"y":18.5},{"g":"<0·5 mg","x":12.5,"y":5.5},{"g":"<0·5 mg","x":13.1,"y":9.4},{"g":"<0·5 mg","x":13.1,"y":1.7},{"g":"<0·5 mg","x":13.8,"y":5.5},{"g":"<0·5 mg","x":14.9,"y":5.1},{"g":"<0·5 mg","x":14.9,"y":6},{"g":"<0·5 mg","x":15.7,"y":9.4},{"g":"<0·5 mg","x":16.3,"y":9.9},{"g":"<0·5 mg","x":16.3,"y":6},{"g":"<0·5 mg","x":17,"y":0.9},{"g":"<0·5 mg","x":17.6,"y":4.3},{"g":"<0·5 mg","x":18,"y":3.4},{"g":"<0·5 mg","x":18.5,"y":5.5},{"g":"<0·5 mg","x":18.7,"y":7.7},{"g":"<0·5 mg","x":18.9,"y":2.6},{"g":"<0·5 mg","x":19.5,"y":2.6},{"g":"<0·5 mg","x":20,"y":5.1},{"g":"<0·5 mg","x":20.5,"y":0.9},{"g":"<0·5 mg","x":20.8,"y":1.7},{"g":"<0·5 mg","x":21.1,"y":0.3},{"g":"<0·5 mg","x":21.5,"y":5.1},{"g":"<0·5 mg","x":23,"y":6},{"g":"<0·5 mg","x":23,"y":3.1},{"g":"<0·5 mg","x":24.3,"y":2.6},{"g":"<0·5 mg","x":24.6,"y":4.8},{"g":"<0·5 mg","x":24.8,"y":8.9},{"g":"<0·5 mg","x":25.1,"y":1.7},{"g":"<0·5 mg","x":27.5,"y":1.7},{"g":"<0·5 mg","x":27.5,"y":6},{"g":"<0·5 mg","x":28,"y":0.9},{"g":"<0·5 mg","x":28.6,"y":2.6},{"g":"<0·5 mg","x":28.9,"y":4.8},{"g":"<0·5 mg","x":30,"y":6.8},{"g":"<0·5 mg","x":30.2,"y":0.9},{"g":"<0·5 mg","x":30.7,"y":1.7},{"g":"<0·5 mg","x":31.2,"y":8.6},{"g":"<0·5 mg","x":34.3,"y":6}],
"l9":[{"g":"<0·5 mg","x":5,"y":9.9},{"g":"<0·5 mg","x":34.3,"y":2.6},{"g":">0·5 mg","x":5,"y":30.8},{"g":">0·5 mg","x":34.3,"y":7.7}],
"p10":[
{"g":"Spring","x":4.9,"y":18.6},{"g":"Spring","x":6.8,"y":24.5},{"g":"Spring","x":8,"y":20.7},{"g":"Spring","x":8.7,"y":11.4},{"g":"Spring","x":9.3,"y":21},{"g":"Spring","x":9.9,"y":30.5},{"g":"Spring","x":9.9,"y":22.3},{"g":"Spring","x":9.9,"y":11.8},{"g":"Spring","x":10.6,"y":9.8},{"g":"Spring","x":11.2,"y":13.6},{"g":"Spring","x":11.9,"y":25.4},{"g":"Spring","x":11.9,"y":22},{"g":"Spring","x":12.5,"y":8.2},{"g":"Spring","x":13.1,"y":1.9},{"g":"Spring","x":13.7,"y":12.8},{"g":"Spring","x":15,"y":16.9},{"g":"Spring","x":15,"y":10.1},{"g":"Spring","x":16.1,"y":19.6},{"g":"Spring","x":16.1,"y":18},{"g":"Spring","x":16.9,"y":17.7},{"g":"Spring","x":17.5,"y":7.1},{"g":"Spring","x":18.6,"y":13.9},{"g":"Spring","x":18.8,"y":11.8},{"g":"Spring","x":19.5,"y":9.8},{"g":"Spring","x":20,"y":7.1},{"g":"Spring","x":20.7,"y":15.2},{"g":"Spring","x":21.3,"y":2.3},{"g":"Spring","x":21.3,"y":0.5},{"g":"Spring","x":21.8,"y":9.5},{"g":"Spring","x":22,"y":20},{"g":"Spring","x":23.2,"y":11.8},{"g":"Spring","x":23.2,"y":10.1},{"g":"Spring","x":24.3,"y":16.9},{"g":"Spring","x":24.3,"y":1},{"g":"Spring","x":25,"y":21},{"g":"Spring","x":25,"y":7.1},{"g":"Spring","x":27.5,"y":21.8},{"g":"Spring","x":28.2,"y":18.6},{"g":"Spring","x":28.2,"y":7.3},{"g":"Spring","x":29,"y":7.1},{"g":"Spring","x":29,"y":2.3},{"g":"Spring","x":30,"y":21},{"g":"Spring","x":30,"y":14.6},{"g":"Spring","x":30.8,"y":11.2},{"g":"Spring","x":31.4,"y":20.4},{"g":"Spring","x":34.4,"y":13.2},
{"g":"Autumn","x":4.9,"y":23.7},{"g":"Autumn","x":6.8,"y":11.8},{"g":"Autumn","x":8,"y":24.1},{"g":"Autumn","x":8.7,"y":20.4},{"g":"Autumn","x":9.5,"y":20},{"g":"Autumn","x":9.9,"y":17.3},{"g":"Autumn","x":9.9,"y":13.6},{"g":"Autumn","x":9.9,"y":7.1},{"g":"Autumn","x":9.9,"y":4.6},{"g":"Autumn","x":10.6,"y":18.2},{"g":"Autumn","x":11.1,"y":25.4},{"g":"Autumn","x":11.7,"y":24.8},{"g":"Autumn","x":11.9,"y":19.3},{"g":"Autumn","x":12.2,"y":13.9},{"g":"Autumn","x":13,"y":20.7},{"g":"Autumn","x":13,"y":16.6},{"g":"Autumn","x":13.5,"y":17.3},{"g":"Autumn","x":13.9,"y":13.9},{"g":"Autumn","x":15,"y":13.6},{"g":"Autumn","x":15,"y":8.2},{"g":"Autumn","x":15.8,"y":11.2},{"g":"Autumn","x":16.1,"y":10.1},{"g":"Autumn","x":16.1,"y":17.7},{"g":"Autumn","x":17.5,"y":12.5},{"g":"Autumn","x":18,"y":1.6},{"g":"Autumn","x":18.6,"y":20},{"g":"Autumn","x":18.8,"y":5.4},{"g":"Autumn","x":19.3,"y":1.9},{"g":"Autumn","x":19.5,"y":13.2},{"g":"Autumn","x":20,"y":4.4},{"g":"Autumn","x":20.5,"y":5},{"g":"Autumn","x":21,"y":4.1},{"g":"Autumn","x":21.6,"y":1},{"g":"Autumn","x":22,"y":6.4},{"g":"Autumn","x":22,"y":3.3},{"g":"Autumn","x":23.2,"y":4.1},{"g":"Autumn","x":23.2,"y":16.9},{"g":"Autumn","x":23.2,"y":12.5},{"g":"Autumn","x":24.3,"y":22.7},{"g":"Autumn","x":24.3,"y":3.7},{"g":"Autumn","x":24.3,"y":2.7},{"g":"Autumn","x":25,"y":5.4},{"g":"Autumn","x":25,"y":12.2},{"g":"Autumn","x":27.5,"y":6.4},{"g":"Autumn","x":28.1,"y":1},{"g":"Autumn","x":28.2,"y":1.9},{"g":"Autumn","x":28.7,"y":16.3},{"g":"Autumn","x":29,"y":6.4},{"g":"Autumn","x":30,"y":7.1},{"g":"Autumn","x":30,"y":6.4},{"g":"Autumn","x":30.7,"y":0},{"g":"Autumn","x":31.4,"y":1.9},{"g":"Autumn","x":34.4,"y":12.8}],
"l10":[{"g":"Autumn","x":4.9,"y":19.3},{"g":"Autumn","x":34.4,"y":1},{"g":"Spring","x":4.9,"y":17.7},{"g":"Spring","x":34.4,"y":8.4}],
"p11":[
{"g":">0·5 mg","x":1,"y":44},{"g":">0·5 mg","x":1,"y":32.3},{"g":">0·5 mg","x":1,"y":31.5},{"g":">0·5 mg","x":1,"y":28.4},{"g":">0·5 mg","x":1,"y":20.3},{"g":">0·5 mg","x":1,"y":19.6},{"g":">0·5 mg","x":1,"y":15},{"g":">0·5 mg","x":1,"y":14},{"g":">0·5 mg","x":1,"y":10},
{"g":">0·5 mg","x":2,"y":39},{"g":">0·5 mg","x":2,"y":38},{"g":">0·5 mg","x":2,"y":35},{"g":">0·5 mg","x":2,"y":33},{"g":">0·5 mg","x":2,"y":31},{"g":">0·5 mg","x":2,"y":30},{"g":">0·5 mg","x":2,"y":29},{"g":">0·5 mg","x":2,"y":27},{"g":">0·5 mg","x":2,"y":22},{"g":">0·5 mg","x":2,"y":19},{"g":">0·5 mg","x":2,"y":14},{"g":">0·5 mg","x":2,"y":13},{"g":">0·5 mg","x":2,"y":12},{"g":">0·5 mg","x":2,"y":10},{"g":">0·5 mg","x":2,"y":8},{"g":">0·5 mg","x":2,"y":6},{"g":">0·5 mg","x":2,"y":5},
{"g":">0·5 mg","x":3,"y":33},{"g":">0·5 mg","x":3,"y":29},{"g":">0·5 mg","x":3,"y":27.5},{"g":">0·5 mg","x":3,"y":23},{"g":">0·5 mg","x":3,"y":21},{"g":">0·5 mg","x":3,"y":19},{"g":">0·5 mg","x":3,"y":18},{"g":">0·5 mg","x":3,"y":13},{"g":">0·5 mg","x":3,"y":12},{"g":">0·5 mg","x":3,"y":11},{"g":">0·5 mg","x":3,"y":10},{"g":">0·5 mg","x":3,"y":9},{"g":">0·5 mg","x":3,"y":7},
{"g":">0·5 mg","x":4,"y":27.7},{"g":">0·5 mg","x":4,"y":21},{"g":">0·5 mg","x":4,"y":17.6},{"g":">0·5 mg","x":4,"y":10.5},{"g":">0·5 mg","x":4,"y":6},
{"g":">0·5 mg","x":5,"y":24.5},{"g":">0·5 mg","x":5,"y":22.8},{"g":">0·5 mg","x":5,"y":15.8},{"g":">0·5 mg","x":5,"y":12.9},{"g":">0·5 mg","x":5,"y":11.6},{"g":">0·5 mg","x":5,"y":5},
{"g":">0·5 mg","x":6,"y":24.5},{"g":">0·5 mg","x":6,"y":19.6},{"g":">0·5 mg","x":6,"y":17},{"g":">0·5 mg","x":6,"y":10},{"g":">0·5 mg","x":6,"y":8.5},{"g":">0·5 mg","x":6,"y":5},{"g":">0·5 mg","x":6,"y":3.5},
{"g":">0·5 mg","x":8,"y":23.2},{"g":">0·5 mg","x":8,"y":3},
{"g":"<0·5 mg","x":1,"y":13.3},{"g":"<0·5 mg","x":1,"y":10},{"g":"<0·5 mg","x":1,"y":6.3},
{"g":"<0·5 mg","x":2,"y":10},{"g":"<0·5 mg","x":2,"y":9},{"g":"<0·5 mg","x":2,"y":8.5},{"g":"<0·5 mg","x":2,"y":2.5},{"g":"<0·5 mg","x":2,"y":1.8},{"g":"<0·5 mg","x":2,"y":1.2},
{"g":"<0·5 mg","x":3,"y":19},{"g":"<0·5 mg","x":3,"y":6.5},{"g":"<0·5 mg","x":3,"y":5},{"g":"<0·5 mg","x":3,"y":3.5},{"g":"<0·5 mg","x":3,"y":2.4},{"g":"<0·5 mg","x":3,"y":1},{"g":"<0·5 mg","x":3,"y":0.3},
{"g":"<0·5 mg","x":4,"y":6},{"g":"<0·5 mg","x":4,"y":5.7},{"g":"<0·5 mg","x":4,"y":2},{"g":"<0·5 mg","x":4,"y":0.3},
{"g":"<0·5 mg","x":5,"y":6},{"g":"<0·5 mg","x":5,"y":5.2},{"g":"<0·5 mg","x":5,"y":4.5},{"g":"<0·5 mg","x":5,"y":3.5},{"g":"<0·5 mg","x":5,"y":3},
{"g":"<0·5 mg","x":6,"y":3},{"g":"<0·5 mg","x":6,"y":2},{"g":"<0·5 mg","x":6,"y":1},{"g":"<0·5 mg","x":6,"y":1.5},
{"g":"<0·5 mg","x":8,"y":7},{"g":"<0·5 mg","x":8,"y":0.3}],
"l11":[{"g":"<0·5 mg","x":1,"y":9},{"g":"<0·5 mg","x":8,"y":0.7},{"g":">0·5 mg","x":1,"y":24.1},{"g":">0·5 mg","x":8,"y":9.7}],
"p12":[
{"g":"Spring","x":1,"y":31},{"g":"Spring","x":1,"y":25},{"g":"Spring","x":1,"y":23.5},{"g":"Spring","x":1,"y":22},{"g":"Spring","x":1,"y":20},{"g":"Spring","x":1,"y":19},{"g":"Spring","x":1,"y":18.5},{"g":"Spring","x":1,"y":16},{"g":"Spring","x":1,"y":14},{"g":"Spring","x":1,"y":13},{"g":"Spring","x":1,"y":11},{"g":"Spring","x":1,"y":3},{"g":"Spring","x":1,"y":1},
{"g":"Spring","x":2,"y":22.5},{"g":"Spring","x":2,"y":21.5},{"g":"Spring","x":2,"y":20},{"g":"Spring","x":2,"y":18},{"g":"Spring","x":2,"y":17},{"g":"Spring","x":2,"y":16},{"g":"Spring","x":2,"y":14},{"g":"Spring","x":2,"y":12},{"g":"Spring","x":2,"y":11},{"g":"Spring","x":2,"y":9.5},{"g":"Spring","x":2,"y":8},{"g":"Spring","x":2,"y":7},{"g":"Spring","x":2,"y":2},
{"g":"Spring","x":3,"y":26},{"g":"Spring","x":3,"y":20},{"g":"Spring","x":3,"y":16},{"g":"Spring","x":3,"y":15},{"g":"Spring","x":3,"y":13},{"g":"Spring","x":3,"y":12},{"g":"Spring","x":3,"y":11},{"g":"Spring","x":3,"y":10},{"g":"Spring","x":3,"y":8},{"g":"Spring","x":3,"y":7},{"g":"Spring","x":3,"y":4},{"g":"Spring","x":3,"y":2.5},
{"g":"Spring","x":4,"y":20},{"g":"Spring","x":4,"y":16},{"g":"Spring","x":4,"y":12},{"g":"Spring","x":4,"y":8},{"g":"Spring","x":4,"y":1.5},{"g":"Spring","x":4,"y":0.3},
{"g":"Spring","x":5,"y":22},{"g":"Spring","x":5,"y":21.5},{"g":"Spring","x":5,"y":15.5},{"g":"Spring","x":5,"y":12},{"g":"Spring","x":5,"y":8},{"g":"Spring","x":5,"y":6},
{"g":"Spring","x":6,"y":9},{"g":"Spring","x":6,"y":7},{"g":"Spring","x":6,"y":6},{"g":"Spring","x":6,"y":4},{"g":"Spring","x":6,"y":2},
{"g":"Spring","x":8,"y":10.7},{"g":"Spring","x":8,"y":4},{"g":"Spring","x":8,"y":2.5},
{"g":"Autumn","x":1,"y":26.5},{"g":"Autumn","x":1,"y":24},{"g":"Autumn","x":1,"y":23},{"g":"Autumn","x":1,"y":14.5},{"g":"Autumn","x":1,"y":12},{"g":"Autumn","x":1,"y":7},{"g":"Autumn","x":1,"y":4.5},{"g":"Autumn","x":1,"y":1.5},
{"g":"Autumn","x":2,"y":25},{"g":"Autumn","x":2,"y":21},{"g":"Autumn","x":2,"y":20},{"g":"Autumn","x":2,"y":19},{"g":"Autumn","x":2,"y":13},{"g":"Autumn","x":2,"y":11},{"g":"Autumn","x":2,"y":10},{"g":"Autumn","x":2,"y":8.5},{"g":"Autumn","x":2,"y":6},{"g":"Autumn","x":2,"y":4.5},{"g":"Autumn","x":2,"y":3},{"g":"Autumn","x":2,"y":1.5},{"g":"Autumn","x":2,"y":0.8},
{"g":"Autumn","x":3,"y":25.5},{"g":"Autumn","x":3,"y":21},{"g":"Autumn","x":3,"y":18},{"g":"Autumn","x":3,"y":17.5},{"g":"Autumn","x":3,"y":13.5},{"g":"Autumn","x":3,"y":12.5},{"g":"Autumn","x":3,"y":8},{"g":"Autumn","x":3,"y":5.5},{"g":"Autumn","x":3,"y":3.5},{"g":"Autumn","x":3,"y":2.5},{"g":"Autumn","x":3,"y":2},
{"g":"Autumn","x":4,"y":17.6},{"g":"Autumn","x":4,"y":14},{"g":"Autumn","x":4,"y":12},{"g":"Autumn","x":4,"y":4},{"g":"Autumn","x":4,"y":1},
{"g":"Autumn","x":5,"y":15},{"g":"Autumn","x":5,"y":12},{"g":"Autumn","x":5,"y":9},{"g":"Autumn","x":5,"y":5.5},{"g":"Autumn","x":5,"y":4.5},{"g":"Autumn","x":5,"y":4},{"g":"Autumn","x":5,"y":1.5},
{"g":"Autumn","x":6,"y":21.5},{"g":"Autumn","x":6,"y":17},{"g":"Autumn","x":6,"y":12.5},{"g":"Autumn","x":6,"y":5},{"g":"Autumn","x":6,"y":3},{"g":"Autumn","x":6,"y":1},
{"g":"Autumn","x":8,"y":17.6},{"g":"Autumn","x":8,"y":0.3}],
"l12":[{"g":"Autumn","x":1,"y":14},{"g":"Autumn","x":8,"y":5.5},{"g":"Spring","x":1,"y":18},{"g":"Spring","x":8,"y":5}],
"p13":[
{"g":">0·5 mg","x":3,"y":12},{"g":">0·5 mg","x":5,"y":10},{"g":">0·5 mg","x":8,"y":20},{"g":">0·5 mg","x":10,"y":7},{"g":">0·5 mg","x":12,"y":21},{"g":">0·5 mg","x":14,"y":12},{"g":">0·5 mg","x":16,"y":22},{"g":">0·5 mg","x":18,"y":25},{"g":">0·5 mg","x":20,"y":24},{"g":">0·5 mg","x":22,"y":12},{"g":">0·5 mg","x":24,"y":22},{"g":">0·5 mg","x":25,"y":13},{"g":">0·5 mg","x":27,"y":16},{"g":">0·5 mg","x":28,"y":24},{"g":">0·5 mg","x":30,"y":20},{"g":">0·5 mg","x":31,"y":10},{"g":">0·5 mg","x":33,"y":18},{"g":">0·5 mg","x":35,"y":26},{"g":">0·5 mg","x":36,"y":13},{"g":">0·5 mg","x":38,"y":21},{"g":">0·5 mg","x":39,"y":30},{"g":">0·5 mg","x":40,"y":35},{"g":">0·5 mg","x":41,"y":20},{"g":">0·5 mg","x":42,"y":27},{"g":">0·5 mg","x":44,"y":22},{"g":">0·5 mg","x":45,"y":30},{"g":">0·5 mg","x":47,"y":24},{"g":">0·5 mg","x":48,"y":18},{"g":">0·5 mg","x":50,"y":33},{"g":">0·5 mg","x":52,"y":27},{"g":">0·5 mg","x":53,"y":20},{"g":">0·5 mg","x":55,"y":25},{"g":">0·5 mg","x":57,"y":29},{"g":">0·5 mg","x":58,"y":22},{"g":">0·5 mg","x":60,"y":31},{"g":">0·5 mg","x":62,"y":28},{"g":">0·5 mg","x":63,"y":20},{"g":">0·5 mg","x":65,"y":44},{"g":">0·5 mg","x":67,"y":38},{"g":">0·5 mg","x":70,"y":22},{"g":">0·5 mg","x":72,"y":40},{"g":">0·5 mg","x":75,"y":32},{"g":">0·5 mg","x":78,"y":31},{"g":">0·5 mg","x":79,"y":36},
{"g":"<0·5 mg","x":3,"y":1},{"g":"<0·5 mg","x":5,"y":4},{"g":"<0·5 mg","x":7,"y":2},{"g":"<0·5 mg","x":8,"y":5},{"g":"<0·5 mg","x":10,"y":0},{"g":"<0·5 mg","x":10,"y":8},{"g":"<0·5 mg","x":12,"y":3},{"g":"<0·5 mg","x":14,"y":5},{"g":"<0·5 mg","x":15,"y":1},{"g":"<0·5 mg","x":16,"y":9},{"g":"<0·5 mg","x":18,"y":6},{"g":"<0·5 mg","x":20,"y":3},{"g":"<0·5 mg","x":20,"y":7},{"g":"<0·5 mg","x":22,"y":10},{"g":"<0·5 mg","x":24,"y":5},{"g":"<0·5 mg","x":25,"y":2},{"g":"<0·5 mg","x":26,"y":8},{"g":"<0·5 mg","x":28,"y":6},{"g":"<0·5 mg","x":29,"y":12},{"g":"<0·5 mg","x":30,"y":4},{"g":"<0·5 mg","x":31,"y":1},{"g":"<0·5 mg","x":32,"y":9},{"g":"<0·5 mg","x":34,"y":6},{"g":"<0·5 mg","x":35,"y":5},{"g":"<0·5 mg","x":36,"y":13},{"g":"<0·5 mg","x":37,"y":0},{"g":"<0·5 mg","x":38,"y":10},{"g":"<0·5 mg","x":39,"y":18},{"g":"<0·5 mg","x":40,"y":8},{"g":"<0·5 mg","x":41,"y":4},{"g":"<0·5 mg","x":42,"y":11},{"g":"<0·5 mg","x":43,"y":7},{"g":"<0·5 mg","x":45,"y":2},{"g":"<0·5 mg","x":46,"y":9},{"g":"<0·5 mg","x":48,"y":6},{"g":"<0·5 mg","x":50,"y":10},{"g":"<0·5 mg","x":52,"y":8},{"g":"<0·5 mg","x":55,"y":4},{"g":"<0·5 mg","x":58,"y":9},{"g":"<0·5 mg","x":62,"y":10},{"g":"<0·5 mg","x":64,"y":11},{"g":"<0·5 mg","x":65,"y":2},{"g":"<0·5 mg","x":70,"y":12},{"g":"<0·5 mg","x":78,"y":12}],
"l13":[{"g":"<0·5 mg","x":3,"y":3},{"g":"<0·5 mg","x":79,"y":12},{"g":">0·5 mg","x":3,"y":10},{"g":">0·5 mg","x":79,"y":35}],
"p14":[
{"g":"Spring","x":2,"y":20},{"g":"Spring","x":5,"y":19},{"g":"Spring","x":7,"y":14},{"g":"Spring","x":8,"y":19},{"g":"Spring","x":10,"y":22},{"g":"Spring","x":12,"y":5},{"g":"Spring","x":13,"y":10},{"g":"Spring","x":15,"y":20},{"g":"Spring","x":16,"y":13},{"g":"Spring","x":18,"y":8},{"g":"Spring","x":19,"y":12},{"g":"Spring","x":21,"y":20},{"g":"Spring","x":22,"y":17},{"g":"Spring","x":24,"y":14},{"g":"Spring","x":25,"y":7},{"g":"Spring","x":27,"y":10},{"g":"Spring","x":28,"y":22},{"g":"Spring","x":30,"y":15},{"g":"Spring","x":31,"y":19},{"g":"Spring","x":33,"y":12},{"g":"Spring","x":34,"y":4},{"g":"Spring","x":35,"y":15},{"g":"Spring","x":36,"y":18},{"g":"Spring","x":38,"y":14},{"g":"Spring","x":39,"y":20},{"g":"Spring","x":40,"y":11},{"g":"Spring","x":41,"y":16},{"g":"Spring","x":44,"y":10},{"g":"Spring","x":45,"y":8},{"g":"Spring","x":47,"y":20},{"g":"Spring","x":49,"y":4},{"g":"Spring","x":50,"y":12},{"g":"Spring","x":52,"y":21},{"g":"Spring","x":55,"y":16},{"g":"Spring","x":58,"y":14},{"g":"Spring","x":60,"y":18},{"g":"Spring","x":63,"y":25},{"g":"Spring","x":65,"y":22},{"g":"Spring","x":68,"y":17},{"g":"Spring","x":72,"y":20},{"g":"Spring","x":75,"y":20},{"g":"Spring","x":78,"y":20},
{"g":"Autumn","x":3,"y":7},{"g":"Autumn","x":5,"y":10},{"g":"Autumn","x":8,"y":3},{"g":"Autumn","x":10,"y":12},{"g":"Autumn","x":12,"y":1},{"g":"Autumn","x":14,"y":9},{"g":"Autumn","x":15,"y":5},{"g":"Autumn","x":17,"y":13},{"g":"Autumn","x":18,"y":8},{"g":"Autumn","x":20,"y":2},{"g":"Autumn","x":22,"y":11},{"g":"Autumn","x":23,"y":15},{"g":"Autumn","x":25,"y":7},{"g":"Autumn","x":26,"y":12},{"g":"Autumn","x":28,"y":17},{"g":"Autumn","x":30,"y":10},{"g":"Autumn","x":31,"y":4},{"g":"Autumn","x":32,"y":14},{"g":"Autumn","x":34,"y":18},{"g":"Autumn","x":35,"y":12},{"g":"Autumn","x":36,"y":20},{"g":"Autumn","x":37,"y":7},{"g":"Autumn","x":38,"y":16},{"g":"Autumn","x":39,"y":21},{"g":"Autumn","x":40,"y":19},{"g":"Autumn","x":41,"y":13},{"g":"Autumn","x":42,"y":11},{"g":"Autumn","x":44,"y":18},{"g":"Autumn","x":45,"y":20},{"g":"Autumn","x":48,"y":15},{"g":"Autumn","x":50,"y":13},{"g":"Autumn","x":55,"y":17},{"g":"Autumn","x":57,"y":20},{"g":"Autumn","x":60,"y":22},{"g":"Autumn","x":62,"y":19},{"g":"Autumn","x":64,"y":24},{"g":"Autumn","x":65,"y":5},{"g":"Autumn","x":70,"y":18},{"g":"Autumn","x":72,"y":16},{"g":"Autumn","x":75,"y":24},{"g":"Autumn","x":78,"y":22},{"g":"Autumn","x":79,"y":12}],
"l14":[{"g":"Autumn","x":3,"y":5},{"g":"Autumn","x":79,"y":22.5},{"g":"Spring","x":3,"y":10},{"g":"Spring","x":79,"y":19.5}],
"p15":[
{"g":">0·5 mg","x":12.1,"y":20},{"g":">0·5 mg","x":12.2,"y":8},{"g":">0·5 mg","x":12.3,"y":5},{"g":">0·5 mg","x":12.4,"y":12},{"g":">0·5 mg","x":12.6,"y":21},{"g":">0·5 mg","x":12.8,"y":20},{"g":">0·5 mg","x":13,"y":16},{"g":">0·5 mg","x":13.2,"y":25},{"g":">0·5 mg","x":13.3,"y":10},{"g":">0·5 mg","x":13.5,"y":12},{"g":">0·5 mg","x":13.6,"y":22},{"g":">0·5 mg","x":13.8,"y":14},{"g":">0·5 mg","x":13.9,"y":26},{"g":">0·5 mg","x":14,"y":34},{"g":">0·5 mg","x":14.1,"y":18},{"g":">0·5 mg","x":14.2,"y":38},{"g":">0·5 mg","x":14.3,"y":20},{"g":">0·5 mg","x":14.4,"y":24},{"g":">0·5 mg","x":14.5,"y":10},{"g":">0·5 mg","x":14.6,"y":12},{"g":">0·5 mg","x":14.7,"y":22},{"g":">0·5 mg","x":14.8,"y":30},{"g":">0·5 mg","x":14.9,"y":28},{"g":">0·5 mg","x":15,"y":34},{"g":">0·5 mg","x":15.1,"y":26},{"g":">0·5 mg","x":15.2,"y":32},{"g":">0·5 mg","x":15.3,"y":35},{"g":">0·5 mg","x":15.4,"y":20},{"g":">0·5 mg","x":15.5,"y":25},{"g":">0·5 mg","x":15.8,"y":35},{"g":">0·5 mg","x":16,"y":18},{"g":">0·5 mg","x":16.1,"y":44},{"g":">0·5 mg","x":16.3,"y":30},{"g":">0·5 mg","x":15.2,"y":12},{"g":">0·5 mg","x":14.3,"y":8},
{"g":"<0·5 mg","x":12.1,"y":1},{"g":"<0·5 mg","x":12.2,"y":0.5},{"g":"<0·5 mg","x":12.3,"y":8},{"g":"<0·5 mg","x":12.4,"y":5},{"g":"<0·5 mg","x":12.5,"y":3},{"g":"<0·5 mg","x":12.6,"y":10},{"g":"<0·5 mg","x":12.7,"y":7},{"g":"<0·5 mg","x":12.8,"y":13},{"g":"<0·5 mg","x":13,"y":3},{"g":"<0·5 mg","x":13.1,"y":6},{"g":"<0·5 mg","x":13.3,"y":4},{"g":"<0·5 mg","x":13.4,"y":8},{"g":"<0·5 mg","x":13.5,"y":1},{"g":"<0·5 mg","x":13.6,"y":5},{"g":"<0·5 mg","x":13.7,"y":11},{"g":"<0·5 mg","x":13.8,"y":3},{"g":"<0·5 mg","x":13.9,"y":7},{"g":"<0·5 mg","x":14,"y":6},{"g":"<0·5 mg","x":14.1,"y":2},{"g":"<0·5 mg","x":14.2,"y":9},{"g":"<0·5 mg","x":14.3,"y":4},{"g":"<0·5 mg","x":14.4,"y":7},{"g":"<0·5 mg","x":14.5,"y":1},{"g":"<0·5 mg","x":14.6,"y":6},{"g":"<0·5 mg","x":14.7,"y":3},{"g":"<0·5 mg","x":14.8,"y":10},{"g":"<0·5 mg","x":14.9,"y":2},{"g":"<0·5 mg","x":15,"y":7},{"g":"<0·5 mg","x":15.1,"y":5},{"g":"<0·5 mg","x":15.2,"y":12},{"g":"<0·5 mg","x":15.3,"y":8},{"g":"<0·5 mg","x":15.4,"y":6},{"g":"<0·5 mg","x":15.5,"y":9},{"g":"<0·5 mg","x":15.7,"y":7},{"g":"<0·5 mg","x":15.9,"y":8},{"g":"<0·5 mg","x":16,"y":10},{"g":"<0·5 mg","x":16.2,"y":10},{"g":"<0·5 mg","x":16.4,"y":9}],
"l15":[{"g":"<0·5 mg","x":12.1,"y":3},{"g":"<0·5 mg","x":16.4,"y":10},{"g":">0·5 mg","x":12.1,"y":5.5},{"g":">0·5 mg","x":16.2,"y":31}],
"p16":[
{"g":"Spring","x":12.1,"y":10},{"g":"Spring","x":12.2,"y":13},{"g":"Spring","x":12.3,"y":2},{"g":"Spring","x":12.5,"y":8},{"g":"Spring","x":12.7,"y":15},{"g":"Spring","x":12.9,"y":5},{"g":"Spring","x":13.1,"y":17},{"g":"Spring","x":13.3,"y":7},{"g":"Spring","x":13.4,"y":13},{"g":"Spring","x":13.6,"y":19},{"g":"Spring","x":13.8,"y":10},{"g":"Spring","x":13.9,"y":20},{"g":"Spring","x":14,"y":14},{"g":"Spring","x":14.1,"y":22},{"g":"Spring","x":14.2,"y":11},{"g":"Spring","x":14.3,"y":18},{"g":"Spring","x":14.4,"y":24},{"g":"Spring","x":14.5,"y":16},{"g":"Spring","x":14.6,"y":13},{"g":"Spring","x":14.7,"y":20},{"g":"Spring","x":14.8,"y":9},{"g":"Spring","x":14.9,"y":22},{"g":"Spring","x":15,"y":15},{"g":"Spring","x":15.1,"y":18},{"g":"Spring","x":15.2,"y":21},{"g":"Spring","x":15.3,"y":12},{"g":"Spring","x":15.4,"y":19},{"g":"Spring","x":15.6,"y":17},{"g":"Spring","x":15.8,"y":22},{"g":"Spring","x":16.1,"y":29},{"g":"Spring","x":16.2,"y":25},
{"g":"Autumn","x":12.1,"y":1},{"g":"Autumn","x":12.2,"y":3},{"g":"Autumn","x":12.3,"y":22},{"g":"Autumn","x":12.4,"y":5},{"g":"Autumn","x":12.6,"y":20},{"g":"Autumn","x":12.7,"y":8},{"g":"Autumn","x":12.9,"y":12},{"g":"Autumn","x":13,"y":2},{"g":"Autumn","x":13.2,"y":6},{"g":"Autumn","x":13.3,"y":10},{"g":"Autumn","x":13.5,"y":15},{"g":"Autumn","x":13.6,"y":3},{"g":"Autumn","x":13.7,"y":12},{"g":"Autumn","x":13.8,"y":1},{"g":"Autumn","x":13.9,"y":8},{"g":"Autumn","x":14,"y":18},{"g":"Autumn","x":14.1,"y":5},{"g":"Autumn","x":14.2,"y":20},{"g":"Autumn","x":14.3,"y":14},{"g":"Autumn","x":14.4,"y":10},{"g":"Autumn","x":14.5,"y":2},{"g":"Autumn","x":14.6,"y":22},{"g":"Autumn","x":14.7,"y":16},{"g":"Autumn","x":14.8,"y":7},{"g":"Autumn","x":14.9,"y":19},{"g":"Autumn","x":15,"y":24},{"g":"Autumn","x":15.1,"y":12},{"g":"Autumn","x":15.2,"y":25},{"g":"Autumn","x":15.3,"y":18},{"g":"Autumn","x":15.4,"y":8},{"g":"Autumn","x":15.5,"y":14},{"g":"Autumn","x":15.6,"y":21},{"g":"Autumn","x":15.8,"y":16},{"g":"Autumn","x":16,"y":15},{"g":"Autumn","x":16.2,"y":17},{"g":"Autumn","x":16.3,"y":12}],
"l16":[{"g":"Autumn","x":12.1,"y":4},{"g":"Autumn","x":16.3,"y":17.5},{"g":"Spring","x":12.1,"y":7},{"g":"Spring","x":16.3,"y":20.5}]
},
"concat":[
{"width":263,"height":99,
 "title":{"text":"A","anchor":"start","frame":"group","dx":-56,"dy":19},
 "layer":[
  {"data":{"name":"p1"},"mark":{"type":"point","filled":true,"opacity":1,"strokeWidth":0},
   "encoding":{"x":{"field":"x","type":"quantitative","scale":{"domain":[0,35],"nice":false,"zero":false},"axis":{"values":[0,5,10,15,20,25,30,35],"labelOverlap":false,"title":"Percentage bare soil"}},
    "y":{"field":"y","type":"quantitative","scale":{"domain":[0,50],"nice":false},"axis":{"values":[0,10,20,30,40,50],"labelOverlap":false,"tickCount":6,"title":["Germination success","(% seedlings)"]}},
    "color":{"field":"g","type":"nominal","scale":{"domain":["<0·5 mg",">0·5 mg"],"range":["#000000","#8c8c8c"]},"legend":{"orient":"none","legendX":196,"legendY":-11,"title":null}},
    "shape":{"field":"g","type":"nominal","scale":{"domain":["<0·5 mg",">0·5 mg"],"range":["diamond","triangle-up"]},"legend":{"orient":"none","legendX":196,"legendY":-11,"title":null}}}},
  {"data":{"name":"l1"},"mark":{"type":"line","strokeWidth":1.3},
   "encoding":{"x":{"field":"x","type":"quantitative","scale":{"domain":[0,35],"nice":false,"zero":false},"axis":{"orient":"top","title":"Seed mass","labels":false,"ticks":false,"domain":false,"titlePadding":8}},"y":{"field":"y","type":"quantitative"},
    "stroke":{"field":"g","type":"nominal","scale":{"domain":["<0·5 mg",">0·5 mg"],"range":["#000000","#999999"]},"legend":null}}}
 ],
 "resolve":{"axis":{"x":"independent"}}},
{"width":263,"height":99,
 "title":{"text":"B","anchor":"start","frame":"group","dx":-32,"dy":19},
 "layer":[
  {"data":{"name":"p2"},"mark":{"type":"point","filled":true,"opacity":1,"strokeWidth":0},
   "encoding":{"x":{"field":"x","type":"quantitative","scale":{"domain":[0,35],"nice":false,"zero":false},"axis":{"values":[0,5,10,15,20,25,30,35],"labelOverlap":false,"title":"Percentage bare soil"}},
    "y":{"field":"y","type":"quantitative","scale":{"domain":[0,40],"nice":false},"axis":{"values":[0,10,20,30,40],"labelOverlap":false,"tickCount":5,"title":null}},
    "color":{"field":"g","type":"nominal","scale":{"domain":["Autumn","Spring"],"range":["#000000","#8c8c8c"]},"legend":{"orient":"none","legendX":206,"legendY":-8,"title":null}},
    "shape":{"field":"g","type":"nominal","scale":{"domain":["Autumn","Spring"],"range":["diamond","triangle-up"]},"legend":{"orient":"none","legendX":206,"legendY":-8,"title":null}}}},
  {"data":{"name":"l2"},"mark":{"type":"line","strokeWidth":1.3},
   "encoding":{"x":{"field":"x","type":"quantitative","scale":{"domain":[0,35],"nice":false,"zero":false},"axis":{"orient":"top","title":"Germination season","labels":false,"ticks":false,"domain":false,"titlePadding":8}},"y":{"field":"y","type":"quantitative"},
    "stroke":{"field":"g","type":"nominal","scale":{"domain":["Autumn","Spring"],"range":["#000000","#999999"]},"legend":null}}}
 ],
 "resolve":{"axis":{"x":"independent"}}},
{"width":263,"height":99,"layer":[
  {"data":{"name":"p3"},"mark":{"type":"point","filled":true,"opacity":1,"strokeWidth":0},
   "encoding":{"x":{"field":"x","type":"quantitative","scale":{"domain":[0,80],"nice":false},"axis":{"values":[0,20,40,60,80],"labelOverlap":false,"title":"Percentage cover moss layer"}},
    "y":{"field":"y","type":"quantitative","scale":{"domain":[0,50],"nice":false},"axis":{"values":[0,10,20,30,40,50],"labelOverlap":false,"tickCount":6,"title":["Germination success","(% seedlings)"]}},
    "color":{"field":"g","type":"nominal","scale":{"domain":["<0·5 mg",">0·5 mg"],"range":["#000000","#8c8c8c"]},"legend":null},
    "shape":{"field":"g","type":"nominal","scale":{"domain":["<0·5 mg",">0·5 mg"],"range":["diamond","triangle-up"]},"legend":null}}},
  {"data":{"name":"l3"},"mark":{"type":"line","strokeWidth":1.3},"encoding":{"x":{"field":"x","type":"quantitative"},"y":{"field":"y","type":"quantitative"},
    "stroke":{"field":"g","type":"nominal","scale":{"domain":["<0·5 mg",">0·5 mg"],"range":["#000000","#999999"]},"legend":null}}}]},
{"width":263,"height":99,"layer":[
  {"data":{"name":"p4"},"mark":{"type":"point","filled":true,"opacity":1,"strokeWidth":0},
   "encoding":{"x":{"field":"x","type":"quantitative","scale":{"domain":[0,80],"nice":false},"axis":{"values":[0,20,40,60,80],"labelOverlap":false,"title":"Percentage cover moss layer"}},
    "y":{"field":"y","type":"quantitative","scale":{"domain":[0,40],"nice":false},"axis":{"values":[0,10,20,30,40],"labelOverlap":false,"tickCount":5,"title":null}},
    "color":{"field":"g","type":"nominal","scale":{"domain":["Autumn","Spring"],"range":["#000000","#8c8c8c"]},"legend":null},
    "shape":{"field":"g","type":"nominal","scale":{"domain":["Autumn","Spring"],"range":["diamond","triangle-up"]},"legend":null}}},
  {"data":{"name":"l4"},"mark":{"type":"line","strokeWidth":1.3},"encoding":{"x":{"field":"x","type":"quantitative"},"y":{"field":"y","type":"quantitative"},
    "stroke":{"field":"g","type":"nominal","scale":{"domain":["Autumn","Spring"],"range":["#000000","#999999"]},"legend":null}}}]},
{"width":263,"height":99,"layer":[
  {"data":{"name":"p5"},"mark":{"type":"point","filled":true,"opacity":1,"strokeWidth":0},
   "encoding":{"x":{"field":"x","type":"quantitative","scale":{"domain":[0,100],"nice":false},"axis":{"values":[0,20,40,60,80,100],"labelOverlap":false,"title":"Percentage cover litter layer"}},
    "y":{"field":"y","type":"quantitative","scale":{"domain":[0,50],"nice":false},"axis":{"values":[0,10,20,30,40,50],"labelOverlap":false,"tickCount":6,"title":["Germination success","(% seedlings)"]}},
    "color":{"field":"g","type":"nominal","scale":{"domain":["<0·5 mg",">0·5 mg"],"range":["#000000","#8c8c8c"]},"legend":null},
    "shape":{"field":"g","type":"nominal","scale":{"domain":["<0·5 mg",">0·5 mg"],"range":["diamond","triangle-up"]},"legend":null}}},
  {"data":{"name":"l5"},"mark":{"type":"line","strokeWidth":1.3},"encoding":{"x":{"field":"x","type":"quantitative"},"y":{"field":"y","type":"quantitative"},
    "stroke":{"field":"g","type":"nominal","scale":{"domain":["<0·5 mg",">0·5 mg"],"range":["#000000","#999999"]},"legend":null}}}]},
{"width":263,"height":99,"layer":[
  {"data":{"name":"p6"},"mark":{"type":"point","filled":true,"opacity":1,"strokeWidth":0},
   "encoding":{"x":{"field":"x","type":"quantitative","scale":{"domain":[0,100],"nice":false},"axis":{"values":[0,20,40,60,80,100],"labelOverlap":false,"title":"Percentage cover litter layer"}},
    "y":{"field":"y","type":"quantitative","scale":{"domain":[0,40],"nice":false},"axis":{"values":[0,10,20,30,40],"labelOverlap":false,"tickCount":5,"title":null}},
    "color":{"field":"g","type":"nominal","scale":{"domain":["Autumn","Spring"],"range":["#000000","#8c8c8c"]},"legend":null},
    "shape":{"field":"g","type":"nominal","scale":{"domain":["Autumn","Spring"],"range":["diamond","triangle-up"]},"legend":null}}},
  {"data":{"name":"l6"},"mark":{"type":"line","strokeWidth":1.3},"encoding":{"x":{"field":"x","type":"quantitative"},"y":{"field":"y","type":"quantitative"},
    "stroke":{"field":"g","type":"nominal","scale":{"domain":["Autumn","Spring"],"range":["#000000","#999999"]},"legend":null}}}]},
{"width":263,"height":99,"layer":[
  {"data":{"name":"p7"},"mark":{"type":"point","filled":true,"opacity":1,"strokeWidth":0},
   "encoding":{"x":{"field":"x","type":"quantitative","scale":{"domain":[0,5],"nice":false},"axis":{"values":[0,1,2,3,4,5],"labelOverlap":false,"title":"Height of litter layer (cm)"}},
    "y":{"field":"y","type":"quantitative","scale":{"domain":[0,50],"nice":false},"axis":{"values":[0,10,20,30,40,50],"labelOverlap":false,"tickCount":6,"title":["Germination success","(% seedlings)"]}},
    "color":{"field":"g","type":"nominal","scale":{"domain":["<0·5 mg",">0·5 mg"],"range":["#000000","#8c8c8c"]},"legend":null},
    "shape":{"field":"g","type":"nominal","scale":{"domain":["<0·5 mg",">0·5 mg"],"range":["diamond","triangle-up"]},"legend":null}}},
  {"data":{"name":"l7"},"mark":{"type":"line","strokeWidth":1.3},"encoding":{"x":{"field":"x","type":"quantitative"},"y":{"field":"y","type":"quantitative"},
    "stroke":{"field":"g","type":"nominal","scale":{"domain":["<0·5 mg",">0·5 mg"],"range":["#000000","#999999"]},"legend":null}}}]},
{"width":263,"height":99,"layer":[
  {"data":{"name":"p8"},"mark":{"type":"point","filled":true,"opacity":1,"strokeWidth":0},
   "encoding":{"x":{"field":"x","type":"quantitative","scale":{"domain":[0,5],"nice":false},"axis":{"values":[0,1,2,3,4,5],"labelOverlap":false,"title":"Height of litter layer (cm)"}},
    "y":{"field":"y","type":"quantitative","scale":{"domain":[0,40],"nice":false},"axis":{"values":[0,10,20,30,40],"labelOverlap":false,"tickCount":5,"title":null}},
    "color":{"field":"g","type":"nominal","scale":{"domain":["Autumn","Spring"],"range":["#000000","#8c8c8c"]},"legend":null},
    "shape":{"field":"g","type":"nominal","scale":{"domain":["Autumn","Spring"],"range":["diamond","triangle-up"]},"legend":null}}},
  {"data":{"name":"l8"},"mark":{"type":"line","strokeWidth":1.3},"encoding":{"x":{"field":"x","type":"quantitative"},"y":{"field":"y","type":"quantitative"},
    "stroke":{"field":"g","type":"nominal","scale":{"domain":["Autumn","Spring"],"range":["#000000","#999999"]},"legend":null}}}]},
{"width":263,"height":99,"layer":[
  {"data":{"name":"p9"},"mark":{"type":"point","filled":true,"opacity":1,"strokeWidth":0},
   "encoding":{"x":{"field":"x","type":"quantitative","scale":{"domain":[0,40],"nice":false},"axis":{"values":[0,10,20,30,40],"labelOverlap":false,"title":"Height of vegetation, Sept (cm)"}},
    "y":{"field":"y","type":"quantitative","scale":{"domain":[0,50],"nice":false},"axis":{"values":[0,10,20,30,40,50],"labelOverlap":false,"tickCount":6,"title":["Germination success","(% seedlings)"]}},
    "color":{"field":"g","type":"nominal","scale":{"domain":["<0·5 mg",">0·5 mg"],"range":["#000000","#8c8c8c"]},"legend":null},
    "shape":{"field":"g","type":"nominal","scale":{"domain":["<0·5 mg",">0·5 mg"],"range":["diamond","triangle-up"]},"legend":null}}},
  {"data":{"name":"l9"},"mark":{"type":"line","strokeWidth":1.3},"encoding":{"x":{"field":"x","type":"quantitative"},"y":{"field":"y","type":"quantitative"},
    "stroke":{"field":"g","type":"nominal","scale":{"domain":["<0·5 mg",">0·5 mg"],"range":["#000000","#999999"]},"legend":null}}}]},
{"width":263,"height":99,"layer":[
  {"data":{"name":"p10"},"mark":{"type":"point","filled":true,"opacity":1,"strokeWidth":0},
   "encoding":{"x":{"field":"x","type":"quantitative","scale":{"domain":[0,40],"nice":false},"axis":{"values":[0,10,20,30,40],"labelOverlap":false,"title":"Height of vegetation, Sept (cm)"}},
    "y":{"field":"y","type":"quantitative","scale":{"domain":[0,40],"nice":false},"axis":{"values":[0,10,20,30,40],"labelOverlap":false,"tickCount":5,"title":null}},
    "color":{"field":"g","type":"nominal","scale":{"domain":["Autumn","Spring"],"range":["#000000","#8c8c8c"]},"legend":null},
    "shape":{"field":"g","type":"nominal","scale":{"domain":["Autumn","Spring"],"range":["diamond","triangle-up"]},"legend":null}}},
  {"data":{"name":"l10"},"mark":{"type":"line","strokeWidth":1.3},"encoding":{"x":{"field":"x","type":"quantitative"},"y":{"field":"y","type":"quantitative"},
    "stroke":{"field":"g","type":"nominal","scale":{"domain":["Autumn","Spring"],"range":["#000000","#999999"]},"legend":null}}}]},
{"width":263,"height":99,"layer":[
  {"data":{"name":"p11"},"mark":{"type":"point","filled":true,"opacity":1,"strokeWidth":0},
   "encoding":{"x":{"field":"x","type":"quantitative","scale":{"domain":[0,10],"nice":false},"axis":{"values":[0,5,10],"labelOverlap":false,"title":"Height of vegetation, Apr (cm)"}},
    "y":{"field":"y","type":"quantitative","scale":{"domain":[0,50],"nice":false},"axis":{"values":[0,10,20,30,40,50],"labelOverlap":false,"tickCount":6,"title":["Germination success","(% seedlings)"]}},
    "color":{"field":"g","type":"nominal","scale":{"domain":["<0·5 mg",">0·5 mg"],"range":["#000000","#8c8c8c"]},"legend":null},
    "shape":{"field":"g","type":"nominal","scale":{"domain":["<0·5 mg",">0·5 mg"],"range":["diamond","triangle-up"]},"legend":null}}},
  {"data":{"name":"l11"},"mark":{"type":"line","strokeWidth":1.3},"encoding":{"x":{"field":"x","type":"quantitative"},"y":{"field":"y","type":"quantitative"},
    "stroke":{"field":"g","type":"nominal","scale":{"domain":["<0·5 mg",">0·5 mg"],"range":["#000000","#999999"]},"legend":null}}}]},
{"width":263,"height":99,"layer":[
  {"data":{"name":"p12"},"mark":{"type":"point","filled":true,"opacity":1,"strokeWidth":0},
   "encoding":{"x":{"field":"x","type":"quantitative","scale":{"domain":[0,10],"nice":false},"axis":{"values":[0,5,10],"labelOverlap":false,"title":"Height of vegetation, Apr (cm)"}},
    "y":{"field":"y","type":"quantitative","scale":{"domain":[0,40],"nice":false},"axis":{"values":[0,10,20,30,40],"labelOverlap":false,"tickCount":5,"title":null}},
    "color":{"field":"g","type":"nominal","scale":{"domain":["Autumn","Spring"],"range":["#000000","#8c8c8c"]},"legend":null},
    "shape":{"field":"g","type":"nominal","scale":{"domain":["Autumn","Spring"],"range":["diamond","triangle-up"]},"legend":null}}},
  {"data":{"name":"l12"},"mark":{"type":"line","strokeWidth":1.3},"encoding":{"x":{"field":"x","type":"quantitative"},"y":{"field":"y","type":"quantitative"},
    "stroke":{"field":"g","type":"nominal","scale":{"domain":["Autumn","Spring"],"range":["#000000","#999999"]},"legend":null}}}]},
{"width":263,"height":99,"layer":[
  {"data":{"name":"p13"},"mark":{"type":"point","filled":true,"opacity":1,"strokeWidth":0},
   "encoding":{"x":{"field":"x","type":"quantitative","scale":{"domain":[0,80],"nice":false},"axis":{"values":[0,20,40,60,80],"labelOverlap":false,"title":"PAR (%)"}},
    "y":{"field":"y","type":"quantitative","scale":{"domain":[0,50],"nice":false},"axis":{"values":[0,10,20,30,40,50],"labelOverlap":false,"tickCount":6,"title":["Germination success","(% seedlings)"]}},
    "color":{"field":"g","type":"nominal","scale":{"domain":["<0·5 mg",">0·5 mg"],"range":["#000000","#8c8c8c"]},"legend":null},
    "shape":{"field":"g","type":"nominal","scale":{"domain":["<0·5 mg",">0·5 mg"],"range":["diamond","triangle-up"]},"legend":null}}},
  {"data":{"name":"l13"},"mark":{"type":"line","strokeWidth":1.3},"encoding":{"x":{"field":"x","type":"quantitative"},"y":{"field":"y","type":"quantitative"},
    "stroke":{"field":"g","type":"nominal","scale":{"domain":["<0·5 mg",">0·5 mg"],"range":["#000000","#999999"]},"legend":null}}}]},
{"width":263,"height":99,"layer":[
  {"data":{"name":"p14"},"mark":{"type":"point","filled":true,"opacity":1,"strokeWidth":0},
   "encoding":{"x":{"field":"x","type":"quantitative","scale":{"domain":[0,80],"nice":false},"axis":{"values":[0,20,40,60,80],"labelOverlap":false,"title":"PAR (%)"}},
    "y":{"field":"y","type":"quantitative","scale":{"domain":[0,40],"nice":false},"axis":{"values":[0,10,20,30,40],"labelOverlap":false,"tickCount":5,"title":null}},
    "color":{"field":"g","type":"nominal","scale":{"domain":["Autumn","Spring"],"range":["#000000","#8c8c8c"]},"legend":null},
    "shape":{"field":"g","type":"nominal","scale":{"domain":["Autumn","Spring"],"range":["diamond","triangle-up"]},"legend":null}}},
  {"data":{"name":"l14"},"mark":{"type":"line","strokeWidth":1.3},"encoding":{"x":{"field":"x","type":"quantitative"},"y":{"field":"y","type":"quantitative"},
    "stroke":{"field":"g","type":"nominal","scale":{"domain":["Autumn","Spring"],"range":["#000000","#999999"]},"legend":null}}}]},
{"width":263,"height":99,"layer":[
  {"data":{"name":"p15"},"mark":{"type":"point","filled":true,"opacity":1,"strokeWidth":0},
   "encoding":{"x":{"field":"x","type":"quantitative","scale":{"domain":[11,17],"nice":false,"zero":false},"axis":{"values":[11,13,15,17],"labelOverlap":false,"title":"Temperature (°C)"}},
    "y":{"field":"y","type":"quantitative","scale":{"domain":[0,50],"nice":false},"axis":{"values":[0,10,20,30,40,50],"labelOverlap":false,"tickCount":6,"title":["Germination success","(% seedlings)"]}},
    "color":{"field":"g","type":"nominal","scale":{"domain":["<0·5 mg",">0·5 mg"],"range":["#000000","#8c8c8c"]},"legend":null},
    "shape":{"field":"g","type":"nominal","scale":{"domain":["<0·5 mg",">0·5 mg"],"range":["diamond","triangle-up"]},"legend":null}}},
  {"data":{"name":"l15"},"mark":{"type":"line","strokeWidth":1.3},"encoding":{"x":{"field":"x","type":"quantitative"},"y":{"field":"y","type":"quantitative"},
    "stroke":{"field":"g","type":"nominal","scale":{"domain":["<0·5 mg",">0·5 mg"],"range":["#000000","#999999"]},"legend":null}}}]},
{"width":263,"height":99,"layer":[
  {"data":{"name":"p16"},"mark":{"type":"point","filled":true,"opacity":1,"strokeWidth":0},
   "encoding":{"x":{"field":"x","type":"quantitative","scale":{"domain":[11,17],"nice":false,"zero":false},"axis":{"values":[11,13,15,17],"labelOverlap":false,"title":"Temperature (°C)"}},
    "y":{"field":"y","type":"quantitative","scale":{"domain":[0,40],"nice":false},"axis":{"values":[0,10,20,30,40],"labelOverlap":false,"tickCount":5,"title":null}},
    "color":{"field":"g","type":"nominal","scale":{"domain":["Autumn","Spring"],"range":["#000000","#8c8c8c"]},"legend":null},
    "shape":{"field":"g","type":"nominal","scale":{"domain":["Autumn","Spring"],"range":["diamond","triangle-up"]},"legend":null}}},
  {"data":{"name":"l16"},"mark":{"type":"line","strokeWidth":1.3},"encoding":{"x":{"field":"x","type":"quantitative"},"y":{"field":"y","type":"quantitative"},
    "stroke":{"field":"g","type":"nominal","scale":{"domain":["Autumn","Spring"],"range":["#000000","#999999"]},"legend":null}}}]}
]
}
